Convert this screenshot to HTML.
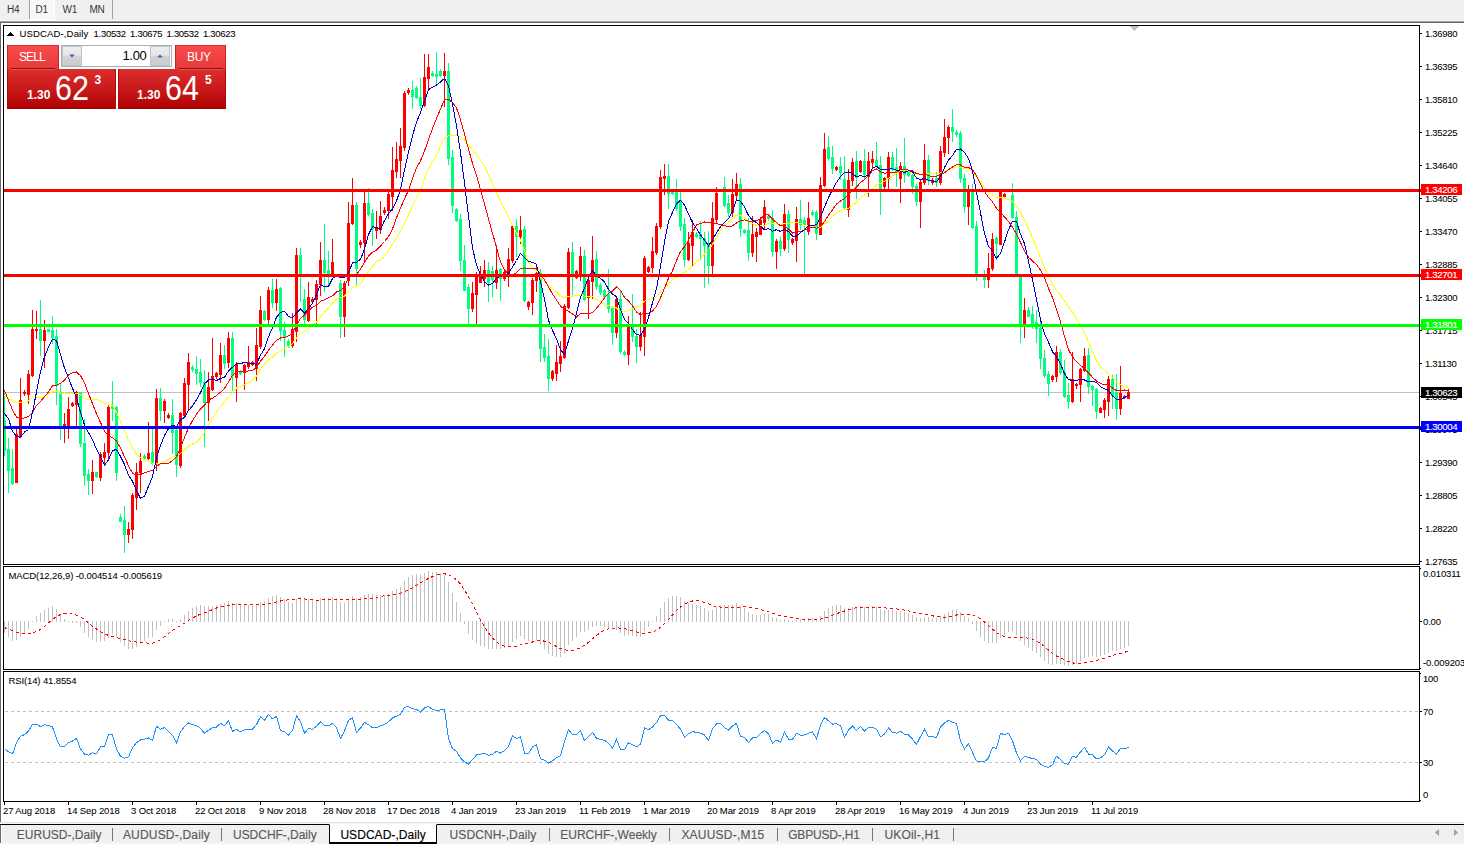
<!DOCTYPE html>
<html><head><meta charset="utf-8"><title>USDCAD-,Daily</title>
<style>
html,body{margin:0;padding:0;background:#fff;}
body{width:1464px;height:845px;position:relative;overflow:hidden;font-family:"Liberation Sans",sans-serif;}
#top{position:absolute;left:0;top:0;width:1464px;height:20px;background:#f0f0f0;}
#topl1{position:absolute;left:0;top:20px;width:1464px;height:1px;background:#f8f8f8;}
#topl2{position:absolute;left:0;top:21px;width:1464px;height:1px;background:#a0a0a0;}
#topl3{position:absolute;left:0;top:22px;width:1464px;height:1px;background:#696969;}
#leftg{position:absolute;left:0;top:22px;width:1px;height:800px;background:#696969;}
.tf{position:absolute;top:3.5px;font-size:10px;line-height:12px;color:#383838;letter-spacing:-0.3px;}
.sep{position:absolute;top:0;width:1px;height:19px;background:#a0a0a0;}
#d1{position:absolute;left:30px;top:0;width:24px;height:19px;background:#fff;border-right:1px solid #fff;border-bottom:1px solid #fff;box-sizing:content-box;background-image:linear-gradient(45deg,#f0f0f0 25%,transparent 25%,transparent 75%,#f0f0f0 75%),linear-gradient(45deg,#f0f0f0 25%,transparent 25%,transparent 75%,#f0f0f0 75%);background-size:2px 2px;background-position:0 0,1px 1px;}
svg{position:absolute;left:0;top:0;}
.ax{position:absolute;font-size:9.5px;line-height:12px;color:#000;white-space:nowrap;letter-spacing:-0.3px;-webkit-text-stroke:0.06px #000;}
.box{position:absolute;left:1421px;width:41px;height:11px;}
.box span{position:absolute;left:4px;top:0px;font-size:9.7px;line-height:11px;letter-spacing:-0.4px;-webkit-text-stroke:0.12px currentColor;}
#bot1{position:absolute;left:0;top:822px;width:1464px;height:1px;background:#e0e0e0;}
#bot2{position:absolute;left:0;top:823px;width:1464px;height:1px;background:#f6f6f6;}
#bot3{position:absolute;left:0;top:824px;width:1464px;height:1px;background:#000;}
#bot{position:absolute;left:0;top:825px;width:1464px;height:18px;background:#f0f0f0;border-left:1px solid #696969;box-sizing:border-box;}
#botl{position:absolute;left:0;top:843px;width:1464px;height:2px;background:#fafafa;}
.tab{position:absolute;top:827px;font-size:12px;line-height:16px;color:#5a5a5a;white-space:nowrap;-webkit-text-stroke:0.15px #5a5a5a;}
.tsep{position:absolute;top:828px;width:1px;height:13px;background:#777;}
#act{position:absolute;left:329px;top:824px;width:106px;height:17px;background:#fff;border:1px solid #000;border-top:1px solid #fff;border-bottom-width:2px;}
#act span{position:absolute;left:10.4px;top:2px;font-size:12px;line-height:16px;color:#000;white-space:nowrap;letter-spacing:0.05px;-webkit-text-stroke:0.15px #000;}
/* one-click widget */
#w{position:absolute;left:7px;top:45px;width:220px;height:64px;}
.g1{background:linear-gradient(#f94d4d,#e63a3a);box-shadow:inset 1px 0 #d02020,inset -1px 0 #d02020,inset 0 1px #d83030;}
.g2{background:linear-gradient(#dd2e2e,#c81a1a 50%,#ae0000);box-shadow:inset 1px 0 #b00808,inset -1px 0 #b00808,inset 0 -1px #a00000;}
#sellt{position:absolute;left:0;top:0;width:52px;height:24px;}
#buyt{position:absolute;left:168px;top:0;width:51px;height:24px;}
#sellb{position:absolute;left:0;top:24px;width:109px;height:40px;}
#buyb{position:absolute;left:111px;top:24px;width:108px;height:40px;}
.wl{position:absolute;font-size:12px;line-height:14px;color:#fff;}
.und{position:absolute;top:23px;height:1px;background:#8c0c0c;}
.und2{position:absolute;top:24px;height:1px;background:#ea5252;}
#spin{position:absolute;left:54px;top:0;width:111px;height:22px;background:#fff;border:1px solid #a8b0b8;box-sizing:border-box;}
.sb{position:absolute;top:0px;width:20px;height:20px;background:linear-gradient(#eeeeee,#e4e4e4 50%,#d4d4d4 50%,#cccccc);border:1px solid #c0c4c8;box-sizing:border-box;}
.sm{position:absolute;font-weight:bold;font-size:12px;line-height:14px;color:#fff;}
.bg{position:absolute;font-size:35px;line-height:34px;color:#fff;transform:scaleX(0.87);transform-origin:0 0;}
.sup{position:absolute;font-weight:bold;font-size:12px;line-height:14px;color:#fff;}
</style></head><body>
<div id="top"></div><div id="topl1"></div><div id="topl2"></div><div id="topl3"></div><div id="leftg"></div>
<div id="d1"></div>
<div class="tf" style="left:7px">H4</div><div class="sep" style="left:29px"></div>
<div class="tf" style="left:35.5px">D1</div>
<div class="tf" style="left:62.5px">W1</div>
<div class="tf" style="left:89.5px">MN</div><div class="sep" style="left:112px"></div>
<svg width="1464" height="845" viewBox="0 0 1464 845" shape-rendering="crispEdges">
<rect x="4" y="392" width="1415" height="1" fill="#c0c0c0"/>
<rect x="4" y="393" width="1" height="63" fill="#00ff7f"/>
<rect x="3" y="420" width="3" height="31" fill="#00ff7f"/>
<rect x="8" y="438" width="1" height="55" fill="#00ff7f"/>
<rect x="7" y="449" width="3" height="22" fill="#00ff7f"/>
<rect x="12" y="449" width="1" height="36" fill="#00ff7f"/>
<rect x="11" y="468" width="3" height="16" fill="#00ff7f"/>
<rect x="16" y="428" width="1" height="55" fill="#ff0000"/>
<rect x="15" y="434" width="3" height="49" fill="#ff0000"/>
<rect x="20" y="378" width="1" height="60" fill="#ff0000"/>
<rect x="19" y="400" width="3" height="37" fill="#ff0000"/>
<rect x="24" y="390" width="1" height="6" fill="#ff0000"/>
<rect x="23" y="392" width="3" height="2" fill="#ff0000"/>
<rect x="28" y="370" width="1" height="34" fill="#ff0000"/>
<rect x="27" y="374" width="3" height="21" fill="#ff0000"/>
<rect x="32" y="310" width="1" height="67" fill="#ff0000"/>
<rect x="31" y="329" width="3" height="47" fill="#ff0000"/>
<rect x="36" y="311" width="1" height="28" fill="#ff0000"/>
<rect x="35" y="329" width="3" height="2" fill="#ff0000"/>
<rect x="40" y="300" width="1" height="56" fill="#00ff7f"/>
<rect x="39" y="329" width="3" height="12" fill="#00ff7f"/>
<rect x="44" y="320" width="1" height="48" fill="#ff0000"/>
<rect x="43" y="330" width="3" height="11" fill="#ff0000"/>
<rect x="48" y="329" width="1" height="3" fill="#00ff7f"/>
<rect x="47" y="329" width="3" height="3" fill="#00ff7f"/>
<rect x="52" y="316" width="1" height="28" fill="#00ff7f"/>
<rect x="51" y="330" width="3" height="8" fill="#00ff7f"/>
<rect x="56" y="329" width="1" height="76" fill="#00ff7f"/>
<rect x="55" y="336" width="3" height="50" fill="#00ff7f"/>
<rect x="60" y="384" width="1" height="56" fill="#00ff7f"/>
<rect x="59" y="393" width="3" height="34" fill="#00ff7f"/>
<rect x="64" y="413" width="1" height="30" fill="#ff0000"/>
<rect x="63" y="424" width="3" height="4" fill="#ff0000"/>
<rect x="68" y="397" width="1" height="42" fill="#ff0000"/>
<rect x="67" y="409" width="3" height="18" fill="#ff0000"/>
<rect x="72" y="402" width="1" height="5" fill="#ff0000"/>
<rect x="71" y="403" width="3" height="3" fill="#ff0000"/>
<rect x="76" y="391" width="1" height="36" fill="#ff0000"/>
<rect x="75" y="392" width="3" height="13" fill="#ff0000"/>
<rect x="80" y="392" width="1" height="55" fill="#00ff7f"/>
<rect x="79" y="392" width="3" height="52" fill="#00ff7f"/>
<rect x="84" y="419" width="1" height="67" fill="#00ff7f"/>
<rect x="83" y="443" width="3" height="33" fill="#00ff7f"/>
<rect x="88" y="469" width="1" height="26" fill="#00ff7f"/>
<rect x="87" y="474" width="3" height="7" fill="#00ff7f"/>
<rect x="92" y="460" width="1" height="34" fill="#ff0000"/>
<rect x="91" y="472" width="3" height="9" fill="#ff0000"/>
<rect x="96" y="472" width="1" height="6" fill="#00ff7f"/>
<rect x="95" y="472" width="3" height="5" fill="#00ff7f"/>
<rect x="100" y="452" width="1" height="29" fill="#ff0000"/>
<rect x="99" y="454" width="3" height="24" fill="#ff0000"/>
<rect x="104" y="443" width="1" height="21" fill="#ff0000"/>
<rect x="103" y="452" width="3" height="6" fill="#ff0000"/>
<rect x="108" y="405" width="1" height="54" fill="#ff0000"/>
<rect x="107" y="407" width="3" height="46" fill="#ff0000"/>
<rect x="112" y="381" width="1" height="40" fill="#00ff7f"/>
<rect x="111" y="406" width="3" height="3" fill="#00ff7f"/>
<rect x="116" y="406" width="1" height="75" fill="#00ff7f"/>
<rect x="115" y="407" width="3" height="66" fill="#00ff7f"/>
<rect x="120" y="514" width="1" height="8" fill="#00ff7f"/>
<rect x="119" y="517" width="3" height="5" fill="#00ff7f"/>
<rect x="124" y="506" width="1" height="47" fill="#00ff7f"/>
<rect x="123" y="520" width="3" height="15" fill="#00ff7f"/>
<rect x="128" y="522" width="1" height="21" fill="#ff0000"/>
<rect x="127" y="529" width="3" height="6" fill="#ff0000"/>
<rect x="132" y="493" width="1" height="46" fill="#ff0000"/>
<rect x="131" y="495" width="3" height="35" fill="#ff0000"/>
<rect x="136" y="463" width="1" height="47" fill="#ff0000"/>
<rect x="135" y="472" width="3" height="26" fill="#ff0000"/>
<rect x="140" y="453" width="1" height="40" fill="#ff0000"/>
<rect x="139" y="461" width="3" height="12" fill="#ff0000"/>
<rect x="144" y="454" width="1" height="6" fill="#00ff7f"/>
<rect x="143" y="456" width="3" height="3" fill="#00ff7f"/>
<rect x="148" y="422" width="1" height="38" fill="#ff0000"/>
<rect x="147" y="453" width="3" height="6" fill="#ff0000"/>
<rect x="152" y="428" width="1" height="37" fill="#00ff7f"/>
<rect x="151" y="452" width="3" height="12" fill="#00ff7f"/>
<rect x="156" y="389" width="1" height="82" fill="#ff0000"/>
<rect x="155" y="398" width="3" height="66" fill="#ff0000"/>
<rect x="160" y="388" width="1" height="33" fill="#00ff7f"/>
<rect x="159" y="398" width="3" height="13" fill="#00ff7f"/>
<rect x="164" y="399" width="1" height="24" fill="#ff0000"/>
<rect x="163" y="401" width="3" height="10" fill="#ff0000"/>
<rect x="168" y="413" width="1" height="6" fill="#ff0000"/>
<rect x="167" y="415" width="3" height="3" fill="#ff0000"/>
<rect x="172" y="399" width="1" height="55" fill="#00ff7f"/>
<rect x="171" y="415" width="3" height="18" fill="#00ff7f"/>
<rect x="176" y="429" width="1" height="48" fill="#00ff7f"/>
<rect x="175" y="430" width="3" height="35" fill="#00ff7f"/>
<rect x="180" y="412" width="1" height="56" fill="#ff0000"/>
<rect x="179" y="413" width="3" height="53" fill="#ff0000"/>
<rect x="184" y="378" width="1" height="39" fill="#ff0000"/>
<rect x="183" y="383" width="3" height="33" fill="#ff0000"/>
<rect x="188" y="353" width="1" height="58" fill="#ff0000"/>
<rect x="187" y="362" width="3" height="23" fill="#ff0000"/>
<rect x="192" y="365" width="1" height="7" fill="#00ff7f"/>
<rect x="191" y="367" width="3" height="3" fill="#00ff7f"/>
<rect x="196" y="356" width="1" height="29" fill="#00ff7f"/>
<rect x="195" y="369" width="3" height="5" fill="#00ff7f"/>
<rect x="200" y="359" width="1" height="28" fill="#00ff7f"/>
<rect x="199" y="372" width="3" height="11" fill="#00ff7f"/>
<rect x="204" y="370" width="1" height="77" fill="#00ff7f"/>
<rect x="203" y="382" width="3" height="21" fill="#00ff7f"/>
<rect x="208" y="372" width="1" height="49" fill="#ff0000"/>
<rect x="207" y="387" width="3" height="16" fill="#ff0000"/>
<rect x="212" y="338" width="1" height="53" fill="#ff0000"/>
<rect x="211" y="376" width="3" height="14" fill="#ff0000"/>
<rect x="216" y="372" width="1" height="7" fill="#ff0000"/>
<rect x="215" y="373" width="3" height="4" fill="#ff0000"/>
<rect x="220" y="343" width="1" height="40" fill="#ff0000"/>
<rect x="219" y="355" width="3" height="20" fill="#ff0000"/>
<rect x="224" y="345" width="1" height="24" fill="#00ff7f"/>
<rect x="223" y="355" width="3" height="9" fill="#00ff7f"/>
<rect x="228" y="332" width="1" height="36" fill="#ff0000"/>
<rect x="227" y="338" width="3" height="25" fill="#ff0000"/>
<rect x="232" y="332" width="1" height="59" fill="#00ff7f"/>
<rect x="231" y="338" width="3" height="38" fill="#00ff7f"/>
<rect x="236" y="362" width="1" height="40" fill="#ff0000"/>
<rect x="235" y="364" width="3" height="14" fill="#ff0000"/>
<rect x="240" y="370" width="1" height="5" fill="#00ff7f"/>
<rect x="239" y="371" width="3" height="3" fill="#00ff7f"/>
<rect x="244" y="364" width="1" height="26" fill="#ff0000"/>
<rect x="243" y="365" width="3" height="8" fill="#ff0000"/>
<rect x="248" y="346" width="1" height="23" fill="#ff0000"/>
<rect x="247" y="362" width="3" height="5" fill="#ff0000"/>
<rect x="252" y="361" width="1" height="5" fill="#ff0000"/>
<rect x="251" y="362" width="3" height="3" fill="#ff0000"/>
<rect x="256" y="328" width="1" height="53" fill="#ff0000"/>
<rect x="255" y="345" width="3" height="24" fill="#ff0000"/>
<rect x="260" y="296" width="1" height="53" fill="#ff0000"/>
<rect x="259" y="310" width="3" height="37" fill="#ff0000"/>
<rect x="264" y="310" width="1" height="11" fill="#00ff7f"/>
<rect x="263" y="311" width="3" height="9" fill="#00ff7f"/>
<rect x="268" y="287" width="1" height="37" fill="#ff0000"/>
<rect x="267" y="290" width="3" height="30" fill="#ff0000"/>
<rect x="272" y="279" width="1" height="29" fill="#00ff7f"/>
<rect x="271" y="290" width="3" height="13" fill="#00ff7f"/>
<rect x="276" y="279" width="1" height="32" fill="#ff0000"/>
<rect x="275" y="289" width="3" height="14" fill="#ff0000"/>
<rect x="280" y="287" width="1" height="54" fill="#00ff7f"/>
<rect x="279" y="288" width="3" height="43" fill="#00ff7f"/>
<rect x="284" y="322" width="1" height="35" fill="#00ff7f"/>
<rect x="283" y="330" width="3" height="7" fill="#00ff7f"/>
<rect x="288" y="339" width="1" height="9" fill="#00ff7f"/>
<rect x="287" y="341" width="3" height="6" fill="#00ff7f"/>
<rect x="292" y="313" width="1" height="35" fill="#ff0000"/>
<rect x="291" y="329" width="3" height="17" fill="#ff0000"/>
<rect x="296" y="248" width="1" height="94" fill="#ff0000"/>
<rect x="295" y="255" width="3" height="77" fill="#ff0000"/>
<rect x="300" y="248" width="1" height="54" fill="#00ff7f"/>
<rect x="299" y="255" width="3" height="21" fill="#00ff7f"/>
<rect x="304" y="289" width="1" height="35" fill="#00ff7f"/>
<rect x="303" y="299" width="3" height="21" fill="#00ff7f"/>
<rect x="308" y="282" width="1" height="40" fill="#ff0000"/>
<rect x="307" y="297" width="3" height="24" fill="#ff0000"/>
<rect x="312" y="297" width="1" height="7" fill="#ff0000"/>
<rect x="311" y="299" width="3" height="3" fill="#ff0000"/>
<rect x="316" y="280" width="1" height="45" fill="#ff0000"/>
<rect x="315" y="284" width="3" height="16" fill="#ff0000"/>
<rect x="320" y="242" width="1" height="54" fill="#ff0000"/>
<rect x="319" y="260" width="3" height="25" fill="#ff0000"/>
<rect x="324" y="224" width="1" height="68" fill="#00ff7f"/>
<rect x="323" y="260" width="3" height="13" fill="#00ff7f"/>
<rect x="328" y="251" width="1" height="35" fill="#00ff7f"/>
<rect x="327" y="270" width="3" height="4" fill="#00ff7f"/>
<rect x="332" y="239" width="1" height="36" fill="#ff0000"/>
<rect x="331" y="262" width="3" height="12" fill="#ff0000"/>
<rect x="336" y="274" width="1" height="3" fill="#00ff7f"/>
<rect x="335" y="274" width="3" height="3" fill="#00ff7f"/>
<rect x="340" y="280" width="1" height="58" fill="#00ff7f"/>
<rect x="339" y="283" width="3" height="34" fill="#00ff7f"/>
<rect x="344" y="281" width="1" height="56" fill="#ff0000"/>
<rect x="343" y="283" width="3" height="34" fill="#ff0000"/>
<rect x="348" y="202" width="1" height="84" fill="#ff0000"/>
<rect x="347" y="223" width="3" height="58" fill="#ff0000"/>
<rect x="352" y="178" width="1" height="47" fill="#ff0000"/>
<rect x="351" y="205" width="3" height="19" fill="#ff0000"/>
<rect x="356" y="202" width="1" height="84" fill="#00ff7f"/>
<rect x="355" y="205" width="3" height="64" fill="#00ff7f"/>
<rect x="360" y="240" width="1" height="8" fill="#ff0000"/>
<rect x="359" y="242" width="3" height="3" fill="#ff0000"/>
<rect x="364" y="191" width="1" height="70" fill="#ff0000"/>
<rect x="363" y="203" width="3" height="40" fill="#ff0000"/>
<rect x="368" y="188" width="1" height="28" fill="#00ff7f"/>
<rect x="367" y="203" width="3" height="12" fill="#00ff7f"/>
<rect x="372" y="209" width="1" height="37" fill="#00ff7f"/>
<rect x="371" y="213" width="3" height="16" fill="#00ff7f"/>
<rect x="376" y="211" width="1" height="28" fill="#ff0000"/>
<rect x="375" y="228" width="3" height="3" fill="#ff0000"/>
<rect x="380" y="201" width="1" height="33" fill="#ff0000"/>
<rect x="379" y="216" width="3" height="14" fill="#ff0000"/>
<rect x="384" y="207" width="1" height="8" fill="#ff0000"/>
<rect x="383" y="210" width="3" height="3" fill="#ff0000"/>
<rect x="388" y="191" width="1" height="28" fill="#ff0000"/>
<rect x="387" y="194" width="3" height="17" fill="#ff0000"/>
<rect x="392" y="147" width="1" height="64" fill="#ff0000"/>
<rect x="391" y="170" width="3" height="27" fill="#ff0000"/>
<rect x="396" y="142" width="1" height="36" fill="#ff0000"/>
<rect x="395" y="159" width="3" height="13" fill="#ff0000"/>
<rect x="400" y="128" width="1" height="50" fill="#ff0000"/>
<rect x="399" y="146" width="3" height="15" fill="#ff0000"/>
<rect x="404" y="91" width="1" height="60" fill="#ff0000"/>
<rect x="403" y="93" width="3" height="55" fill="#ff0000"/>
<rect x="408" y="88" width="1" height="7" fill="#ff0000"/>
<rect x="407" y="90" width="3" height="3" fill="#ff0000"/>
<rect x="412" y="81" width="1" height="28" fill="#00ff7f"/>
<rect x="411" y="90" width="3" height="7" fill="#00ff7f"/>
<rect x="416" y="86" width="1" height="13" fill="#00ff7f"/>
<rect x="415" y="88" width="3" height="10" fill="#00ff7f"/>
<rect x="420" y="78" width="1" height="31" fill="#00ff7f"/>
<rect x="419" y="97" width="3" height="9" fill="#00ff7f"/>
<rect x="424" y="54" width="1" height="53" fill="#ff0000"/>
<rect x="423" y="77" width="3" height="29" fill="#ff0000"/>
<rect x="428" y="54" width="1" height="35" fill="#ff0000"/>
<rect x="427" y="67" width="3" height="12" fill="#ff0000"/>
<rect x="432" y="71" width="1" height="6" fill="#00ff7f"/>
<rect x="431" y="73" width="3" height="3" fill="#00ff7f"/>
<rect x="436" y="52" width="1" height="32" fill="#00ff7f"/>
<rect x="435" y="74" width="3" height="3" fill="#00ff7f"/>
<rect x="440" y="69" width="1" height="8" fill="#00ff7f"/>
<rect x="439" y="71" width="3" height="5" fill="#00ff7f"/>
<rect x="444" y="53" width="1" height="54" fill="#ff0000"/>
<rect x="443" y="71" width="3" height="5" fill="#ff0000"/>
<rect x="448" y="63" width="1" height="102" fill="#00ff7f"/>
<rect x="447" y="71" width="3" height="88" fill="#00ff7f"/>
<rect x="452" y="150" width="1" height="63" fill="#00ff7f"/>
<rect x="451" y="157" width="3" height="49" fill="#00ff7f"/>
<rect x="456" y="208" width="1" height="14" fill="#00ff7f"/>
<rect x="455" y="209" width="3" height="12" fill="#00ff7f"/>
<rect x="460" y="214" width="1" height="57" fill="#00ff7f"/>
<rect x="459" y="219" width="3" height="42" fill="#00ff7f"/>
<rect x="464" y="245" width="1" height="46" fill="#00ff7f"/>
<rect x="463" y="260" width="3" height="31" fill="#00ff7f"/>
<rect x="468" y="284" width="1" height="41" fill="#00ff7f"/>
<rect x="467" y="287" width="3" height="22" fill="#00ff7f"/>
<rect x="472" y="282" width="1" height="30" fill="#ff0000"/>
<rect x="471" y="293" width="3" height="16" fill="#ff0000"/>
<rect x="476" y="272" width="1" height="53" fill="#ff0000"/>
<rect x="475" y="276" width="3" height="19" fill="#ff0000"/>
<rect x="480" y="266" width="1" height="17" fill="#ff0000"/>
<rect x="479" y="274" width="3" height="9" fill="#ff0000"/>
<rect x="484" y="260" width="1" height="27" fill="#ff0000"/>
<rect x="483" y="270" width="3" height="9" fill="#ff0000"/>
<rect x="488" y="262" width="1" height="40" fill="#00ff7f"/>
<rect x="487" y="270" width="3" height="13" fill="#00ff7f"/>
<rect x="492" y="266" width="1" height="31" fill="#00ff7f"/>
<rect x="491" y="271" width="3" height="9" fill="#00ff7f"/>
<rect x="496" y="248" width="1" height="41" fill="#ff0000"/>
<rect x="495" y="270" width="3" height="13" fill="#ff0000"/>
<rect x="500" y="268" width="1" height="33" fill="#00ff7f"/>
<rect x="499" y="269" width="3" height="10" fill="#00ff7f"/>
<rect x="504" y="270" width="1" height="11" fill="#ff0000"/>
<rect x="503" y="272" width="3" height="7" fill="#ff0000"/>
<rect x="508" y="248" width="1" height="39" fill="#ff0000"/>
<rect x="507" y="259" width="3" height="18" fill="#ff0000"/>
<rect x="512" y="225" width="1" height="38" fill="#ff0000"/>
<rect x="511" y="226" width="3" height="35" fill="#ff0000"/>
<rect x="516" y="219" width="1" height="38" fill="#00ff7f"/>
<rect x="515" y="226" width="3" height="11" fill="#00ff7f"/>
<rect x="520" y="216" width="1" height="28" fill="#ff0000"/>
<rect x="519" y="230" width="3" height="7" fill="#ff0000"/>
<rect x="524" y="226" width="1" height="76" fill="#00ff7f"/>
<rect x="523" y="229" width="3" height="72" fill="#00ff7f"/>
<rect x="528" y="301" width="1" height="9" fill="#ff0000"/>
<rect x="527" y="302" width="3" height="5" fill="#ff0000"/>
<rect x="532" y="278" width="1" height="37" fill="#ff0000"/>
<rect x="531" y="280" width="3" height="23" fill="#ff0000"/>
<rect x="536" y="266" width="1" height="26" fill="#ff0000"/>
<rect x="535" y="273" width="3" height="8" fill="#ff0000"/>
<rect x="540" y="269" width="1" height="93" fill="#00ff7f"/>
<rect x="539" y="273" width="3" height="76" fill="#00ff7f"/>
<rect x="544" y="334" width="1" height="28" fill="#00ff7f"/>
<rect x="543" y="347" width="3" height="11" fill="#00ff7f"/>
<rect x="548" y="339" width="1" height="52" fill="#00ff7f"/>
<rect x="547" y="356" width="3" height="23" fill="#00ff7f"/>
<rect x="552" y="370" width="1" height="11" fill="#ff0000"/>
<rect x="551" y="371" width="3" height="8" fill="#ff0000"/>
<rect x="556" y="345" width="1" height="36" fill="#ff0000"/>
<rect x="555" y="362" width="3" height="12" fill="#ff0000"/>
<rect x="560" y="341" width="1" height="31" fill="#ff0000"/>
<rect x="559" y="356" width="3" height="8" fill="#ff0000"/>
<rect x="564" y="304" width="1" height="55" fill="#ff0000"/>
<rect x="563" y="306" width="3" height="52" fill="#ff0000"/>
<rect x="568" y="248" width="1" height="61" fill="#ff0000"/>
<rect x="567" y="252" width="3" height="56" fill="#ff0000"/>
<rect x="572" y="242" width="1" height="53" fill="#00ff7f"/>
<rect x="571" y="252" width="3" height="22" fill="#00ff7f"/>
<rect x="576" y="270" width="1" height="9" fill="#ff0000"/>
<rect x="575" y="271" width="3" height="7" fill="#ff0000"/>
<rect x="580" y="247" width="1" height="34" fill="#ff0000"/>
<rect x="579" y="256" width="3" height="18" fill="#ff0000"/>
<rect x="584" y="250" width="1" height="51" fill="#00ff7f"/>
<rect x="583" y="256" width="3" height="44" fill="#00ff7f"/>
<rect x="588" y="277" width="1" height="42" fill="#ff0000"/>
<rect x="587" y="280" width="3" height="18" fill="#ff0000"/>
<rect x="592" y="236" width="1" height="63" fill="#ff0000"/>
<rect x="591" y="260" width="3" height="22" fill="#ff0000"/>
<rect x="596" y="251" width="1" height="39" fill="#00ff7f"/>
<rect x="595" y="259" width="3" height="28" fill="#00ff7f"/>
<rect x="600" y="283" width="1" height="12" fill="#00ff7f"/>
<rect x="599" y="285" width="3" height="8" fill="#00ff7f"/>
<rect x="604" y="289" width="1" height="10" fill="#00ff7f"/>
<rect x="603" y="290" width="3" height="7" fill="#00ff7f"/>
<rect x="608" y="269" width="1" height="44" fill="#00ff7f"/>
<rect x="607" y="294" width="3" height="15" fill="#00ff7f"/>
<rect x="612" y="307" width="1" height="38" fill="#00ff7f"/>
<rect x="611" y="308" width="3" height="25" fill="#00ff7f"/>
<rect x="616" y="297" width="1" height="41" fill="#ff0000"/>
<rect x="615" y="299" width="3" height="34" fill="#ff0000"/>
<rect x="620" y="291" width="1" height="63" fill="#00ff7f"/>
<rect x="619" y="299" width="3" height="53" fill="#00ff7f"/>
<rect x="624" y="350" width="1" height="6" fill="#00ff7f"/>
<rect x="623" y="352" width="3" height="3" fill="#00ff7f"/>
<rect x="628" y="316" width="1" height="49" fill="#ff0000"/>
<rect x="627" y="324" width="3" height="31" fill="#ff0000"/>
<rect x="632" y="294" width="1" height="48" fill="#00ff7f"/>
<rect x="631" y="324" width="3" height="13" fill="#00ff7f"/>
<rect x="636" y="329" width="1" height="34" fill="#00ff7f"/>
<rect x="635" y="336" width="3" height="11" fill="#00ff7f"/>
<rect x="640" y="312" width="1" height="39" fill="#ff0000"/>
<rect x="639" y="335" width="3" height="12" fill="#ff0000"/>
<rect x="644" y="256" width="1" height="100" fill="#ff0000"/>
<rect x="643" y="258" width="3" height="79" fill="#ff0000"/>
<rect x="648" y="266" width="1" height="7" fill="#ff0000"/>
<rect x="647" y="267" width="3" height="5" fill="#ff0000"/>
<rect x="652" y="237" width="1" height="36" fill="#ff0000"/>
<rect x="651" y="251" width="3" height="17" fill="#ff0000"/>
<rect x="656" y="223" width="1" height="32" fill="#ff0000"/>
<rect x="655" y="226" width="3" height="27" fill="#ff0000"/>
<rect x="660" y="170" width="1" height="59" fill="#ff0000"/>
<rect x="659" y="177" width="3" height="50" fill="#ff0000"/>
<rect x="664" y="164" width="1" height="31" fill="#ff0000"/>
<rect x="663" y="176" width="3" height="3" fill="#ff0000"/>
<rect x="668" y="164" width="1" height="45" fill="#00ff7f"/>
<rect x="667" y="176" width="3" height="18" fill="#00ff7f"/>
<rect x="672" y="191" width="1" height="4" fill="#00ff7f"/>
<rect x="671" y="192" width="3" height="2" fill="#00ff7f"/>
<rect x="676" y="179" width="1" height="32" fill="#00ff7f"/>
<rect x="675" y="192" width="3" height="17" fill="#00ff7f"/>
<rect x="680" y="192" width="1" height="39" fill="#00ff7f"/>
<rect x="679" y="200" width="3" height="27" fill="#00ff7f"/>
<rect x="684" y="218" width="1" height="49" fill="#00ff7f"/>
<rect x="683" y="224" width="3" height="36" fill="#00ff7f"/>
<rect x="688" y="232" width="1" height="29" fill="#ff0000"/>
<rect x="687" y="243" width="3" height="17" fill="#ff0000"/>
<rect x="692" y="220" width="1" height="46" fill="#ff0000"/>
<rect x="691" y="232" width="3" height="14" fill="#ff0000"/>
<rect x="696" y="232" width="1" height="6" fill="#00ff7f"/>
<rect x="695" y="234" width="3" height="3" fill="#00ff7f"/>
<rect x="700" y="221" width="1" height="39" fill="#00ff7f"/>
<rect x="699" y="234" width="3" height="5" fill="#00ff7f"/>
<rect x="704" y="232" width="1" height="56" fill="#00ff7f"/>
<rect x="703" y="238" width="3" height="8" fill="#00ff7f"/>
<rect x="708" y="231" width="1" height="53" fill="#00ff7f"/>
<rect x="707" y="243" width="3" height="23" fill="#00ff7f"/>
<rect x="712" y="202" width="1" height="72" fill="#ff0000"/>
<rect x="711" y="218" width="3" height="48" fill="#ff0000"/>
<rect x="716" y="187" width="1" height="37" fill="#ff0000"/>
<rect x="715" y="193" width="3" height="27" fill="#ff0000"/>
<rect x="720" y="190" width="1" height="2" fill="#ff0000"/>
<rect x="719" y="190" width="3" height="1" fill="#ff0000"/>
<rect x="724" y="177" width="1" height="30" fill="#00ff7f"/>
<rect x="723" y="187" width="3" height="19" fill="#00ff7f"/>
<rect x="728" y="195" width="1" height="22" fill="#00ff7f"/>
<rect x="727" y="203" width="3" height="10" fill="#00ff7f"/>
<rect x="732" y="179" width="1" height="38" fill="#ff0000"/>
<rect x="731" y="194" width="3" height="19" fill="#ff0000"/>
<rect x="736" y="173" width="1" height="28" fill="#ff0000"/>
<rect x="735" y="184" width="3" height="12" fill="#ff0000"/>
<rect x="740" y="178" width="1" height="59" fill="#00ff7f"/>
<rect x="739" y="184" width="3" height="45" fill="#00ff7f"/>
<rect x="744" y="229" width="1" height="5" fill="#00ff7f"/>
<rect x="743" y="230" width="3" height="3" fill="#00ff7f"/>
<rect x="748" y="218" width="1" height="43" fill="#00ff7f"/>
<rect x="747" y="230" width="3" height="23" fill="#00ff7f"/>
<rect x="752" y="216" width="1" height="41" fill="#ff0000"/>
<rect x="751" y="234" width="3" height="19" fill="#ff0000"/>
<rect x="756" y="228" width="1" height="34" fill="#ff0000"/>
<rect x="755" y="232" width="3" height="5" fill="#ff0000"/>
<rect x="760" y="217" width="1" height="18" fill="#ff0000"/>
<rect x="759" y="220" width="3" height="15" fill="#ff0000"/>
<rect x="764" y="200" width="1" height="30" fill="#ff0000"/>
<rect x="763" y="207" width="3" height="16" fill="#ff0000"/>
<rect x="768" y="215" width="1" height="6" fill="#00ff7f"/>
<rect x="767" y="216" width="3" height="3" fill="#00ff7f"/>
<rect x="772" y="210" width="1" height="47" fill="#00ff7f"/>
<rect x="771" y="218" width="3" height="34" fill="#00ff7f"/>
<rect x="776" y="239" width="1" height="30" fill="#ff0000"/>
<rect x="775" y="241" width="3" height="11" fill="#ff0000"/>
<rect x="780" y="236" width="1" height="20" fill="#00ff7f"/>
<rect x="779" y="241" width="3" height="8" fill="#00ff7f"/>
<rect x="784" y="204" width="1" height="47" fill="#ff0000"/>
<rect x="783" y="214" width="3" height="35" fill="#ff0000"/>
<rect x="788" y="210" width="1" height="43" fill="#00ff7f"/>
<rect x="787" y="214" width="3" height="26" fill="#00ff7f"/>
<rect x="792" y="238" width="1" height="7" fill="#ff0000"/>
<rect x="791" y="239" width="3" height="4" fill="#ff0000"/>
<rect x="796" y="207" width="1" height="55" fill="#ff0000"/>
<rect x="795" y="219" width="3" height="22" fill="#ff0000"/>
<rect x="800" y="200" width="1" height="30" fill="#00ff7f"/>
<rect x="799" y="219" width="3" height="6" fill="#00ff7f"/>
<rect x="804" y="217" width="1" height="58" fill="#00ff7f"/>
<rect x="803" y="220" width="3" height="5" fill="#00ff7f"/>
<rect x="808" y="202" width="1" height="33" fill="#ff0000"/>
<rect x="807" y="218" width="3" height="14" fill="#ff0000"/>
<rect x="812" y="210" width="1" height="6" fill="#00ff7f"/>
<rect x="811" y="212" width="3" height="3" fill="#00ff7f"/>
<rect x="816" y="210" width="1" height="30" fill="#00ff7f"/>
<rect x="815" y="212" width="3" height="22" fill="#00ff7f"/>
<rect x="820" y="177" width="1" height="58" fill="#ff0000"/>
<rect x="819" y="185" width="3" height="50" fill="#ff0000"/>
<rect x="824" y="133" width="1" height="54" fill="#ff0000"/>
<rect x="823" y="149" width="3" height="37" fill="#ff0000"/>
<rect x="828" y="136" width="1" height="25" fill="#00ff7f"/>
<rect x="827" y="147" width="3" height="12" fill="#00ff7f"/>
<rect x="832" y="146" width="1" height="28" fill="#00ff7f"/>
<rect x="831" y="157" width="3" height="12" fill="#00ff7f"/>
<rect x="836" y="166" width="1" height="5" fill="#ff0000"/>
<rect x="835" y="167" width="3" height="3" fill="#ff0000"/>
<rect x="840" y="157" width="1" height="23" fill="#00ff7f"/>
<rect x="839" y="166" width="3" height="7" fill="#00ff7f"/>
<rect x="844" y="156" width="1" height="54" fill="#00ff7f"/>
<rect x="843" y="179" width="3" height="29" fill="#00ff7f"/>
<rect x="848" y="169" width="1" height="48" fill="#ff0000"/>
<rect x="847" y="180" width="3" height="30" fill="#ff0000"/>
<rect x="852" y="158" width="1" height="28" fill="#ff0000"/>
<rect x="851" y="162" width="3" height="19" fill="#ff0000"/>
<rect x="856" y="151" width="1" height="48" fill="#00ff7f"/>
<rect x="855" y="161" width="3" height="17" fill="#00ff7f"/>
<rect x="860" y="160" width="1" height="13" fill="#ff0000"/>
<rect x="859" y="161" width="3" height="11" fill="#ff0000"/>
<rect x="864" y="149" width="1" height="30" fill="#00ff7f"/>
<rect x="863" y="161" width="3" height="14" fill="#00ff7f"/>
<rect x="868" y="152" width="1" height="45" fill="#ff0000"/>
<rect x="867" y="161" width="3" height="16" fill="#ff0000"/>
<rect x="872" y="151" width="1" height="18" fill="#ff0000"/>
<rect x="871" y="159" width="3" height="4" fill="#ff0000"/>
<rect x="876" y="142" width="1" height="25" fill="#00ff7f"/>
<rect x="875" y="160" width="3" height="6" fill="#00ff7f"/>
<rect x="880" y="156" width="1" height="59" fill="#00ff7f"/>
<rect x="879" y="165" width="3" height="24" fill="#00ff7f"/>
<rect x="884" y="177" width="1" height="12" fill="#ff0000"/>
<rect x="883" y="178" width="3" height="9" fill="#ff0000"/>
<rect x="888" y="152" width="1" height="38" fill="#ff0000"/>
<rect x="887" y="157" width="3" height="22" fill="#ff0000"/>
<rect x="892" y="152" width="1" height="19" fill="#00ff7f"/>
<rect x="891" y="157" width="3" height="13" fill="#00ff7f"/>
<rect x="896" y="148" width="1" height="39" fill="#00ff7f"/>
<rect x="895" y="167" width="3" height="6" fill="#00ff7f"/>
<rect x="900" y="162" width="1" height="41" fill="#ff0000"/>
<rect x="899" y="166" width="3" height="13" fill="#ff0000"/>
<rect x="904" y="138" width="1" height="45" fill="#00ff7f"/>
<rect x="903" y="166" width="3" height="9" fill="#00ff7f"/>
<rect x="908" y="170" width="1" height="7" fill="#00ff7f"/>
<rect x="907" y="171" width="3" height="5" fill="#00ff7f"/>
<rect x="912" y="174" width="1" height="20" fill="#00ff7f"/>
<rect x="911" y="175" width="3" height="12" fill="#00ff7f"/>
<rect x="916" y="184" width="1" height="22" fill="#00ff7f"/>
<rect x="915" y="186" width="3" height="16" fill="#00ff7f"/>
<rect x="920" y="180" width="1" height="48" fill="#ff0000"/>
<rect x="919" y="182" width="3" height="20" fill="#ff0000"/>
<rect x="924" y="144" width="1" height="41" fill="#ff0000"/>
<rect x="923" y="160" width="3" height="23" fill="#ff0000"/>
<rect x="928" y="155" width="1" height="30" fill="#00ff7f"/>
<rect x="927" y="160" width="3" height="21" fill="#00ff7f"/>
<rect x="932" y="178" width="1" height="7" fill="#ff0000"/>
<rect x="931" y="180" width="3" height="3" fill="#ff0000"/>
<rect x="936" y="172" width="1" height="15" fill="#00ff7f"/>
<rect x="935" y="178" width="3" height="5" fill="#00ff7f"/>
<rect x="940" y="146" width="1" height="39" fill="#ff0000"/>
<rect x="939" y="151" width="3" height="32" fill="#ff0000"/>
<rect x="944" y="119" width="1" height="38" fill="#ff0000"/>
<rect x="943" y="137" width="3" height="16" fill="#ff0000"/>
<rect x="948" y="125" width="1" height="29" fill="#ff0000"/>
<rect x="947" y="127" width="3" height="11" fill="#ff0000"/>
<rect x="952" y="109" width="1" height="33" fill="#00ff7f"/>
<rect x="951" y="127" width="3" height="5" fill="#00ff7f"/>
<rect x="956" y="130" width="1" height="7" fill="#00ff7f"/>
<rect x="955" y="132" width="3" height="3" fill="#00ff7f"/>
<rect x="960" y="131" width="1" height="52" fill="#00ff7f"/>
<rect x="959" y="133" width="3" height="46" fill="#00ff7f"/>
<rect x="964" y="174" width="1" height="39" fill="#00ff7f"/>
<rect x="963" y="178" width="3" height="29" fill="#00ff7f"/>
<rect x="968" y="185" width="1" height="40" fill="#ff0000"/>
<rect x="967" y="191" width="3" height="16" fill="#ff0000"/>
<rect x="972" y="184" width="1" height="45" fill="#00ff7f"/>
<rect x="971" y="191" width="3" height="37" fill="#00ff7f"/>
<rect x="976" y="221" width="1" height="60" fill="#00ff7f"/>
<rect x="975" y="226" width="3" height="49" fill="#00ff7f"/>
<rect x="980" y="274" width="1" height="3" fill="#00ff7f"/>
<rect x="979" y="274" width="3" height="3" fill="#00ff7f"/>
<rect x="984" y="270" width="1" height="18" fill="#00ff7f"/>
<rect x="983" y="277" width="3" height="3" fill="#00ff7f"/>
<rect x="988" y="253" width="1" height="35" fill="#ff0000"/>
<rect x="987" y="268" width="3" height="12" fill="#ff0000"/>
<rect x="992" y="233" width="1" height="38" fill="#ff0000"/>
<rect x="991" y="239" width="3" height="30" fill="#ff0000"/>
<rect x="996" y="236" width="1" height="24" fill="#00ff7f"/>
<rect x="995" y="238" width="3" height="6" fill="#00ff7f"/>
<rect x="1000" y="190" width="1" height="55" fill="#ff0000"/>
<rect x="999" y="192" width="3" height="53" fill="#ff0000"/>
<rect x="1004" y="193" width="1" height="5" fill="#ff0000"/>
<rect x="1003" y="194" width="3" height="3" fill="#ff0000"/>
<rect x="1008" y="190" width="1" height="2" fill="#ff0000"/>
<rect x="1007" y="190" width="3" height="1" fill="#ff0000"/>
<rect x="1012" y="183" width="1" height="36" fill="#00ff7f"/>
<rect x="1011" y="195" width="3" height="23" fill="#00ff7f"/>
<rect x="1016" y="211" width="1" height="65" fill="#00ff7f"/>
<rect x="1015" y="217" width="3" height="58" fill="#00ff7f"/>
<rect x="1020" y="274" width="1" height="69" fill="#00ff7f"/>
<rect x="1019" y="277" width="3" height="49" fill="#00ff7f"/>
<rect x="1024" y="298" width="1" height="40" fill="#ff0000"/>
<rect x="1023" y="310" width="3" height="15" fill="#ff0000"/>
<rect x="1028" y="307" width="1" height="10" fill="#00ff7f"/>
<rect x="1027" y="310" width="3" height="7" fill="#00ff7f"/>
<rect x="1032" y="306" width="1" height="23" fill="#00ff7f"/>
<rect x="1031" y="314" width="3" height="10" fill="#00ff7f"/>
<rect x="1036" y="310" width="1" height="33" fill="#00ff7f"/>
<rect x="1035" y="322" width="3" height="7" fill="#00ff7f"/>
<rect x="1040" y="322" width="1" height="47" fill="#00ff7f"/>
<rect x="1039" y="328" width="3" height="31" fill="#00ff7f"/>
<rect x="1044" y="350" width="1" height="28" fill="#00ff7f"/>
<rect x="1043" y="358" width="3" height="18" fill="#00ff7f"/>
<rect x="1048" y="371" width="1" height="25" fill="#00ff7f"/>
<rect x="1047" y="374" width="3" height="10" fill="#00ff7f"/>
<rect x="1052" y="375" width="1" height="7" fill="#ff0000"/>
<rect x="1051" y="376" width="3" height="4" fill="#ff0000"/>
<rect x="1056" y="346" width="1" height="36" fill="#ff0000"/>
<rect x="1055" y="352" width="3" height="25" fill="#ff0000"/>
<rect x="1060" y="349" width="1" height="26" fill="#00ff7f"/>
<rect x="1059" y="352" width="3" height="21" fill="#00ff7f"/>
<rect x="1064" y="360" width="1" height="38" fill="#00ff7f"/>
<rect x="1063" y="372" width="3" height="25" fill="#00ff7f"/>
<rect x="1068" y="383" width="1" height="26" fill="#00ff7f"/>
<rect x="1067" y="395" width="3" height="7" fill="#00ff7f"/>
<rect x="1072" y="352" width="1" height="51" fill="#ff0000"/>
<rect x="1071" y="379" width="3" height="23" fill="#ff0000"/>
<rect x="1076" y="383" width="1" height="6" fill="#ff0000"/>
<rect x="1075" y="384" width="3" height="2" fill="#ff0000"/>
<rect x="1080" y="368" width="1" height="34" fill="#ff0000"/>
<rect x="1079" y="369" width="3" height="16" fill="#ff0000"/>
<rect x="1084" y="348" width="1" height="24" fill="#ff0000"/>
<rect x="1083" y="356" width="3" height="15" fill="#ff0000"/>
<rect x="1088" y="348" width="1" height="46" fill="#00ff7f"/>
<rect x="1087" y="355" width="3" height="32" fill="#00ff7f"/>
<rect x="1092" y="385" width="1" height="21" fill="#00ff7f"/>
<rect x="1091" y="386" width="3" height="4" fill="#00ff7f"/>
<rect x="1096" y="388" width="1" height="31" fill="#00ff7f"/>
<rect x="1095" y="389" width="3" height="23" fill="#00ff7f"/>
<rect x="1100" y="407" width="1" height="6" fill="#ff0000"/>
<rect x="1099" y="408" width="3" height="5" fill="#ff0000"/>
<rect x="1104" y="398" width="1" height="20" fill="#ff0000"/>
<rect x="1103" y="400" width="3" height="10" fill="#ff0000"/>
<rect x="1108" y="376" width="1" height="40" fill="#ff0000"/>
<rect x="1107" y="379" width="3" height="23" fill="#ff0000"/>
<rect x="1112" y="375" width="1" height="34" fill="#00ff7f"/>
<rect x="1111" y="379" width="3" height="17" fill="#00ff7f"/>
<rect x="1116" y="374" width="1" height="46" fill="#00ff7f"/>
<rect x="1115" y="392" width="3" height="17" fill="#00ff7f"/>
<rect x="1120" y="366" width="1" height="49" fill="#ff0000"/>
<rect x="1119" y="393" width="3" height="16" fill="#ff0000"/>
<rect x="1124" y="395" width="1" height="4" fill="#ff0000"/>
<rect x="1123" y="396" width="3" height="2" fill="#ff0000"/>
<rect x="1128" y="389" width="1" height="10" fill="#ff0000"/>
<rect x="1127" y="392" width="3" height="7" fill="#ff0000"/>
<polyline points="3.5,395.1 4.5,395.1 8.5,397.3 12.5,400.9 16.5,402.1 20.5,402.9 24.5,402.9 28.5,400.7 32.5,397.7 36.5,397.7 40.5,397.2 44.5,397.1 48.5,394.6 52.5,391.6 56.5,391.3 60.5,393.4 64.5,393.0 68.5,393.6 72.5,394.0 76.5,393.7 80.5,394.5 84.5,398.4 88.5,399.8 92.5,399.9 96.5,399.6 100.5,400.6 104.5,403.1 108.5,403.8 112.5,405.4 116.5,412.2 120.5,421.4 124.5,430.6 128.5,440.1 132.5,447.9 136.5,454.3 140.5,457.9 144.5,459.4 148.5,460.8 152.5,463.4 156.5,463.1 160.5,464.0 164.5,462.0 168.5,459.2 172.5,456.9 176.5,456.5 180.5,453.5 184.5,450.1 188.5,445.8 192.5,444.0 196.5,442.3 200.5,438.0 204.5,432.3 208.5,425.3 212.5,418.0 216.5,412.2 220.5,406.6 224.5,401.9 228.5,396.3 232.5,392.6 236.5,387.8 240.5,386.7 244.5,384.5 248.5,382.7 252.5,380.2 256.5,376.1 260.5,368.7 264.5,364.2 268.5,359.8 272.5,356.9 276.5,353.1 280.5,351.1 284.5,348.9 288.5,346.2 292.5,343.5 296.5,337.7 300.5,333.1 304.5,331.3 308.5,328.2 312.5,326.3 316.5,322.0 320.5,317.0 324.5,312.2 328.5,307.8 332.5,303.0 336.5,298.9 340.5,297.5 344.5,296.2 348.5,291.6 352.5,287.6 356.5,286.0 360.5,283.8 364.5,277.7 368.5,271.9 372.5,266.3 376.5,261.5 380.5,259.6 384.5,256.5 388.5,250.6 392.5,244.5 396.5,237.8 400.5,231.3 404.5,223.3 408.5,214.7 412.5,206.2 416.5,198.4 420.5,190.2 424.5,178.8 428.5,168.6 432.5,161.5 436.5,155.4 440.5,146.1 444.5,138.0 448.5,135.8 452.5,135.4 456.5,135.0 460.5,136.6 464.5,140.1 468.5,144.7 472.5,149.4 476.5,154.5 480.5,160.0 484.5,165.9 488.5,174.9 492.5,183.9 496.5,192.2 500.5,200.8 504.5,208.7 508.5,217.4 512.5,225.0 516.5,232.7 520.5,240.0 524.5,250.8 528.5,261.8 532.5,267.6 536.5,270.8 540.5,276.9 544.5,281.5 548.5,285.7 552.5,288.7 556.5,292.0 560.5,295.8 564.5,297.4 568.5,296.5 572.5,296.1 576.5,295.7 580.5,295.1 584.5,296.1 588.5,296.5 592.5,296.5 596.5,299.4 600.5,302.0 604.5,305.2 608.5,305.6 612.5,307.0 616.5,307.9 620.5,311.6 624.5,311.9 628.5,310.3 632.5,308.3 636.5,307.1 640.5,305.8 644.5,301.1 648.5,299.2 652.5,299.2 656.5,296.9 660.5,292.4 664.5,288.6 668.5,283.6 672.5,279.4 676.5,277.0 680.5,274.1 684.5,272.5 688.5,269.9 692.5,266.3 696.5,261.7 700.5,258.8 704.5,253.8 708.5,249.5 712.5,244.5 716.5,237.7 720.5,230.3 724.5,224.2 728.5,222.0 732.5,218.5 736.5,215.3 740.5,215.4 744.5,218.0 748.5,221.6 752.5,223.6 756.5,225.5 760.5,226.0 764.5,225.2 768.5,223.3 772.5,223.6 776.5,224.0 780.5,224.6 784.5,223.5 788.5,223.2 792.5,222.0 796.5,222.0 800.5,223.5 804.5,225.1 808.5,225.7 812.5,225.7 816.5,227.6 820.5,227.6 824.5,223.9 828.5,220.4 832.5,216.4 836.5,213.2 840.5,210.3 844.5,209.7 848.5,208.4 852.5,205.7 856.5,202.2 860.5,198.4 864.5,194.9 868.5,192.4 872.5,188.6 876.5,185.0 880.5,183.5 884.5,181.4 888.5,178.2 892.5,175.9 896.5,173.9 900.5,170.7 904.5,170.2 908.5,171.4 912.5,172.8 916.5,174.3 920.5,175.0 924.5,174.4 928.5,173.2 932.5,173.1 936.5,174.1 940.5,172.8 944.5,171.7 948.5,169.4 952.5,168.0 956.5,166.8 960.5,167.5 964.5,168.4 968.5,169.0 972.5,172.3 976.5,177.3 980.5,182.2 984.5,187.6 988.5,192.1 992.5,195.1 996.5,197.8 1000.5,197.4 1004.5,198.0 1008.5,199.4 1012.5,201.2 1016.5,205.7 1020.5,212.6 1024.5,220.1 1028.5,228.6 1032.5,238.0 1036.5,247.3 1040.5,258.0 1044.5,267.4 1048.5,275.8 1052.5,284.6 1056.5,290.5 1060.5,295.2 1064.5,300.9 1068.5,306.8 1072.5,312.0 1076.5,318.9 1080.5,324.9 1084.5,332.8 1088.5,341.9 1092.5,351.4 1096.5,360.6 1100.5,367.0 1104.5,370.5 1108.5,373.8 1112.5,377.6 1116.5,381.7 1120.5,384.8 1124.5,386.6 1128.5,387.4" fill="none" stroke="#ffff00" stroke-width="1" />
<polyline points="3.5,390.5 4.5,390.5 8.5,400.5 12.5,409.9 16.5,417.2 20.5,418.4 24.5,417.9 28.5,416.6 32.5,412.8 36.5,405.4 40.5,401.4 44.5,396.7 48.5,392.1 52.5,385.6 56.5,385.1 60.5,383.3 64.5,380.1 68.5,374.8 72.5,372.6 76.5,372.0 80.5,375.7 84.5,382.9 88.5,393.6 92.5,403.8 96.5,413.6 100.5,422.5 104.5,431.1 108.5,436.1 112.5,437.8 116.5,441.1 120.5,448.0 124.5,456.9 128.5,465.9 132.5,473.2 136.5,475.3 140.5,474.4 144.5,472.8 148.5,471.4 152.5,470.5 156.5,466.5 160.5,463.5 164.5,463.1 168.5,463.6 172.5,460.6 176.5,456.6 180.5,448.0 184.5,437.5 188.5,428.1 192.5,420.7 196.5,414.3 200.5,408.9 204.5,405.2 208.5,399.8 212.5,398.2 216.5,395.5 220.5,392.2 224.5,388.5 228.5,381.9 232.5,375.4 236.5,372.0 240.5,371.3 244.5,371.5 248.5,371.0 252.5,370.3 256.5,367.7 260.5,361.2 264.5,356.3 268.5,350.2 272.5,345.1 276.5,340.3 280.5,338.0 284.5,337.8 288.5,335.8 292.5,333.3 296.5,324.8 300.5,318.4 304.5,315.2 308.5,310.6 312.5,307.2 316.5,305.4 320.5,301.2 324.5,299.9 328.5,297.8 332.5,295.9 336.5,292.0 340.5,290.6 344.5,286.1 348.5,278.5 352.5,274.9 356.5,274.5 360.5,269.0 364.5,262.3 368.5,256.2 372.5,252.2 376.5,250.0 380.5,246.0 384.5,241.5 388.5,236.5 392.5,229.0 396.5,217.8 400.5,208.0 404.5,198.7 408.5,190.5 412.5,178.2 416.5,167.8 420.5,160.8 424.5,151.0 428.5,139.5 432.5,128.6 436.5,118.5 440.5,108.9 444.5,100.1 448.5,99.3 452.5,102.6 456.5,107.9 460.5,119.8 464.5,134.1 468.5,149.2 472.5,163.2 476.5,175.4 480.5,189.5 484.5,204.0 488.5,218.8 492.5,233.3 496.5,247.2 500.5,262.1 504.5,270.2 508.5,274.1 512.5,274.5 516.5,272.8 520.5,268.5 524.5,267.9 528.5,268.6 532.5,268.9 536.5,268.9 540.5,274.4 544.5,279.8 548.5,286.8 552.5,294.1 556.5,300.0 560.5,306.0 564.5,309.4 568.5,311.3 572.5,313.9 576.5,316.9 580.5,313.7 584.5,313.5 588.5,313.5 592.5,312.6 596.5,308.2 600.5,303.5 604.5,297.7 608.5,293.2 612.5,291.1 616.5,287.0 620.5,290.2 624.5,297.4 628.5,301.0 632.5,305.6 636.5,312.1 640.5,314.6 644.5,313.0 648.5,313.5 652.5,311.0 656.5,306.3 660.5,297.7 664.5,288.2 668.5,278.3 672.5,270.8 676.5,260.6 680.5,251.5 684.5,246.8 688.5,240.2 692.5,232.1 696.5,225.0 700.5,223.6 704.5,222.0 708.5,223.0 712.5,222.5 716.5,223.6 720.5,224.6 724.5,225.5 728.5,226.8 732.5,225.8 736.5,222.9 740.5,220.7 744.5,219.9 748.5,221.3 752.5,221.2 756.5,220.8 760.5,219.0 764.5,214.9 768.5,214.9 772.5,219.0 776.5,222.7 780.5,225.7 784.5,225.8 788.5,229.0 792.5,233.0 796.5,232.3 800.5,231.7 804.5,229.7 808.5,228.5 812.5,227.2 816.5,228.1 820.5,226.5 824.5,221.6 828.5,215.0 832.5,209.8 836.5,204.0 840.5,201.0 844.5,198.7 848.5,194.5 852.5,190.4 856.5,187.1 860.5,182.6 864.5,179.5 868.5,175.8 872.5,170.5 876.5,169.0 880.5,171.8 884.5,173.2 888.5,172.5 892.5,172.6 896.5,172.6 900.5,169.7 904.5,169.3 908.5,170.2 912.5,170.9 916.5,173.7 920.5,174.2 924.5,174.2 928.5,175.6 932.5,176.7 936.5,176.2 940.5,174.3 944.5,172.9 948.5,169.8 952.5,166.9 956.5,164.6 960.5,165.0 964.5,167.2 968.5,167.5 972.5,169.4 976.5,176.0 980.5,184.3 984.5,191.3 988.5,197.7 992.5,201.8 996.5,208.4 1000.5,212.3 1004.5,217.1 1008.5,221.3 1012.5,227.3 1016.5,234.1 1020.5,242.5 1024.5,251.0 1028.5,257.4 1032.5,260.9 1036.5,264.6 1040.5,270.3 1044.5,277.9 1048.5,288.2 1052.5,297.7 1056.5,309.2 1060.5,321.8 1064.5,336.5 1068.5,349.6 1072.5,357.1 1076.5,361.4 1080.5,365.6 1084.5,368.5 1088.5,373.0 1092.5,377.3 1096.5,381.1 1100.5,383.5 1104.5,384.7 1108.5,384.9 1112.5,388.0 1116.5,390.6 1120.5,390.4 1124.5,390.0 1128.5,390.9" fill="none" stroke="#ff0000" stroke-width="1" />
<polyline points="3.5,413.5 4.5,413.5 8.5,418.8 12.5,431.1 16.5,436.7 20.5,437.2 24.5,432.1 28.5,429.5 32.5,412.2 36.5,392.1 40.5,371.7 44.5,356.8 48.5,347.0 52.5,339.1 56.5,340.7 60.5,354.5 64.5,368.1 68.5,377.9 72.5,388.4 76.5,397.1 80.5,412.3 84.5,425.1 88.5,432.7 92.5,439.6 96.5,449.2 100.5,456.5 104.5,465.1 108.5,459.9 112.5,450.5 116.5,449.5 120.5,456.4 124.5,464.6 128.5,475.3 132.5,481.3 136.5,490.7 140.5,498.3 144.5,496.1 148.5,486.4 152.5,476.4 156.5,457.7 160.5,445.7 164.5,435.4 168.5,428.8 172.5,425.1 176.5,426.8 180.5,419.6 184.5,417.4 188.5,410.5 192.5,405.9 196.5,399.9 200.5,392.7 204.5,383.7 208.5,380.0 212.5,379.0 216.5,380.5 220.5,378.5 224.5,377.2 228.5,371.0 232.5,367.2 236.5,364.0 240.5,363.6 244.5,362.4 248.5,363.5 252.5,363.4 256.5,364.4 260.5,355.2 264.5,348.7 268.5,336.8 272.5,327.7 276.5,317.2 280.5,312.6 284.5,311.2 288.5,316.4 292.5,317.8 296.5,312.9 300.5,309.0 304.5,313.3 308.5,308.5 312.5,303.3 316.5,294.4 320.5,284.5 324.5,286.9 328.5,286.6 332.5,278.6 336.5,275.6 340.5,278.0 344.5,277.8 348.5,272.5 352.5,263.0 356.5,262.3 360.5,259.4 364.5,249.0 368.5,234.5 372.5,226.7 376.5,227.4 380.5,229.0 384.5,220.6 388.5,213.7 392.5,208.9 396.5,201.0 400.5,189.3 404.5,170.0 408.5,152.0 412.5,135.8 416.5,122.0 420.5,112.7 424.5,101.0 428.5,89.7 432.5,87.1 436.5,85.1 440.5,82.0 444.5,78.3 448.5,85.8 452.5,104.1 456.5,126.0 460.5,152.6 464.5,183.1 468.5,216.4 472.5,248.1 476.5,265.0 480.5,274.8 484.5,282.0 488.5,285.1 492.5,283.5 496.5,278.1 500.5,276.1 504.5,275.4 508.5,273.3 512.5,267.0 516.5,260.5 520.5,253.5 524.5,257.8 528.5,261.2 532.5,262.4 536.5,264.4 540.5,281.8 544.5,299.0 548.5,320.2 552.5,330.3 556.5,338.9 560.5,349.7 564.5,354.4 568.5,340.8 572.5,328.8 576.5,313.5 580.5,297.1 584.5,288.2 588.5,277.4 592.5,270.7 596.5,275.5 600.5,278.3 604.5,281.8 608.5,289.4 612.5,294.0 616.5,296.7 620.5,309.7 624.5,319.3 628.5,323.8 632.5,329.4 636.5,334.7 640.5,335.2 644.5,329.3 648.5,317.4 652.5,302.7 656.5,288.7 660.5,266.0 664.5,241.7 668.5,221.5 672.5,212.3 676.5,203.8 680.5,200.2 684.5,204.9 688.5,214.3 692.5,222.4 696.5,228.5 700.5,234.9 704.5,240.1 708.5,245.7 712.5,240.0 716.5,232.9 720.5,226.8 724.5,222.4 728.5,218.8 732.5,211.6 736.5,200.0 740.5,201.3 744.5,206.9 748.5,215.7 752.5,219.9 756.5,222.8 760.5,226.4 764.5,229.8 768.5,228.5 772.5,231.1 776.5,229.6 780.5,231.5 784.5,228.8 788.5,231.6 792.5,236.1 796.5,236.2 800.5,232.3 804.5,229.8 808.5,225.5 812.5,225.5 816.5,224.7 820.5,216.9 824.5,207.0 828.5,197.6 832.5,189.7 836.5,182.5 840.5,176.5 844.5,172.8 848.5,172.0 852.5,173.9 856.5,176.6 860.5,175.6 864.5,176.6 868.5,175.0 872.5,168.2 876.5,166.1 880.5,169.7 884.5,169.9 888.5,169.3 892.5,168.7 896.5,170.2 900.5,171.2 904.5,172.5 908.5,170.7 912.5,171.8 916.5,178.1 920.5,179.8 924.5,178.2 928.5,180.1 932.5,180.9 936.5,181.8 940.5,176.7 944.5,167.6 948.5,159.9 952.5,155.7 956.5,149.2 960.5,149.0 964.5,152.6 968.5,158.4 972.5,171.2 976.5,192.2 980.5,212.8 984.5,233.5 988.5,246.3 992.5,251.0 996.5,258.4 1000.5,253.3 1004.5,242.0 1008.5,229.8 1012.5,221.1 1016.5,221.8 1020.5,234.1 1024.5,243.7 1028.5,261.4 1032.5,279.7 1036.5,299.4 1040.5,319.6 1044.5,334.0 1048.5,342.3 1052.5,351.7 1056.5,356.9 1060.5,363.9 1064.5,373.6 1068.5,379.7 1072.5,380.3 1076.5,380.4 1080.5,379.4 1084.5,380.0 1088.5,382.0 1092.5,381.1 1096.5,382.5 1100.5,386.6 1104.5,388.9 1108.5,390.4 1112.5,396.0 1116.5,399.2 1120.5,399.7 1124.5,397.6 1128.5,395.2" fill="none" stroke="#0000cd" stroke-width="1" />
<rect x="4" y="189" width="1418" height="3" fill="#ff0000"/>
<rect x="4" y="274" width="1418" height="3" fill="#ff0000"/>
<rect x="4" y="324" width="1418" height="3" fill="#00ff00"/>
<rect x="4" y="426" width="1418" height="3" fill="#0000ff"/>
<rect x="4" y="621" width="1" height="12" fill="#c0c0c0"/>
<rect x="8" y="621" width="1" height="16" fill="#c0c0c0"/>
<rect x="12" y="621" width="1" height="20" fill="#c0c0c0"/>
<rect x="16" y="621" width="1" height="19" fill="#c0c0c0"/>
<rect x="20" y="621" width="1" height="16" fill="#c0c0c0"/>
<rect x="24" y="621" width="1" height="12" fill="#c0c0c0"/>
<rect x="28" y="621" width="1" height="8" fill="#c0c0c0"/>
<rect x="32" y="621" width="1" height="1" fill="#c0c0c0"/>
<rect x="36" y="616" width="1" height="6" fill="#c0c0c0"/>
<rect x="40" y="613" width="1" height="9" fill="#c0c0c0"/>
<rect x="44" y="610" width="1" height="12" fill="#c0c0c0"/>
<rect x="48" y="608" width="1" height="14" fill="#c0c0c0"/>
<rect x="52" y="606" width="1" height="16" fill="#c0c0c0"/>
<rect x="56" y="609" width="1" height="13" fill="#c0c0c0"/>
<rect x="60" y="615" width="1" height="7" fill="#c0c0c0"/>
<rect x="64" y="619" width="1" height="3" fill="#c0c0c0"/>
<rect x="68" y="621" width="1" height="1" fill="#c0c0c0"/>
<rect x="72" y="621" width="1" height="2" fill="#c0c0c0"/>
<rect x="76" y="621" width="1" height="2" fill="#c0c0c0"/>
<rect x="80" y="621" width="1" height="6" fill="#c0c0c0"/>
<rect x="84" y="621" width="1" height="12" fill="#c0c0c0"/>
<rect x="88" y="621" width="1" height="16" fill="#c0c0c0"/>
<rect x="92" y="621" width="1" height="19" fill="#c0c0c0"/>
<rect x="96" y="621" width="1" height="21" fill="#c0c0c0"/>
<rect x="100" y="621" width="1" height="21" fill="#c0c0c0"/>
<rect x="104" y="621" width="1" height="20" fill="#c0c0c0"/>
<rect x="108" y="621" width="1" height="17" fill="#c0c0c0"/>
<rect x="112" y="621" width="1" height="13" fill="#c0c0c0"/>
<rect x="116" y="621" width="1" height="16" fill="#c0c0c0"/>
<rect x="120" y="621" width="1" height="21" fill="#c0c0c0"/>
<rect x="124" y="621" width="1" height="25" fill="#c0c0c0"/>
<rect x="128" y="621" width="1" height="28" fill="#c0c0c0"/>
<rect x="132" y="621" width="1" height="28" fill="#c0c0c0"/>
<rect x="136" y="621" width="1" height="26" fill="#c0c0c0"/>
<rect x="140" y="621" width="1" height="23" fill="#c0c0c0"/>
<rect x="144" y="621" width="1" height="20" fill="#c0c0c0"/>
<rect x="148" y="621" width="1" height="17" fill="#c0c0c0"/>
<rect x="152" y="621" width="1" height="16" fill="#c0c0c0"/>
<rect x="156" y="621" width="1" height="9" fill="#c0c0c0"/>
<rect x="160" y="621" width="1" height="5" fill="#c0c0c0"/>
<rect x="164" y="621" width="1" height="1" fill="#c0c0c0"/>
<rect x="168" y="619" width="1" height="3" fill="#c0c0c0"/>
<rect x="172" y="619" width="1" height="3" fill="#c0c0c0"/>
<rect x="176" y="621" width="1" height="1" fill="#c0c0c0"/>
<rect x="180" y="619" width="1" height="3" fill="#c0c0c0"/>
<rect x="184" y="615" width="1" height="7" fill="#c0c0c0"/>
<rect x="188" y="611" width="1" height="11" fill="#c0c0c0"/>
<rect x="192" y="608" width="1" height="14" fill="#c0c0c0"/>
<rect x="196" y="606" width="1" height="16" fill="#c0c0c0"/>
<rect x="200" y="605" width="1" height="17" fill="#c0c0c0"/>
<rect x="204" y="606" width="1" height="16" fill="#c0c0c0"/>
<rect x="208" y="606" width="1" height="16" fill="#c0c0c0"/>
<rect x="212" y="606" width="1" height="16" fill="#c0c0c0"/>
<rect x="216" y="605" width="1" height="17" fill="#c0c0c0"/>
<rect x="220" y="604" width="1" height="18" fill="#c0c0c0"/>
<rect x="224" y="603" width="1" height="19" fill="#c0c0c0"/>
<rect x="228" y="601" width="1" height="21" fill="#c0c0c0"/>
<rect x="232" y="603" width="1" height="19" fill="#c0c0c0"/>
<rect x="236" y="603" width="1" height="19" fill="#c0c0c0"/>
<rect x="240" y="604" width="1" height="18" fill="#c0c0c0"/>
<rect x="244" y="605" width="1" height="17" fill="#c0c0c0"/>
<rect x="248" y="605" width="1" height="17" fill="#c0c0c0"/>
<rect x="252" y="606" width="1" height="16" fill="#c0c0c0"/>
<rect x="256" y="605" width="1" height="17" fill="#c0c0c0"/>
<rect x="260" y="602" width="1" height="20" fill="#c0c0c0"/>
<rect x="264" y="601" width="1" height="21" fill="#c0c0c0"/>
<rect x="268" y="598" width="1" height="24" fill="#c0c0c0"/>
<rect x="272" y="596" width="1" height="26" fill="#c0c0c0"/>
<rect x="276" y="595" width="1" height="27" fill="#c0c0c0"/>
<rect x="280" y="597" width="1" height="25" fill="#c0c0c0"/>
<rect x="284" y="599" width="1" height="23" fill="#c0c0c0"/>
<rect x="288" y="602" width="1" height="20" fill="#c0c0c0"/>
<rect x="292" y="603" width="1" height="19" fill="#c0c0c0"/>
<rect x="296" y="599" width="1" height="23" fill="#c0c0c0"/>
<rect x="300" y="597" width="1" height="25" fill="#c0c0c0"/>
<rect x="304" y="599" width="1" height="23" fill="#c0c0c0"/>
<rect x="308" y="599" width="1" height="23" fill="#c0c0c0"/>
<rect x="312" y="600" width="1" height="22" fill="#c0c0c0"/>
<rect x="316" y="600" width="1" height="22" fill="#c0c0c0"/>
<rect x="320" y="598" width="1" height="24" fill="#c0c0c0"/>
<rect x="324" y="598" width="1" height="24" fill="#c0c0c0"/>
<rect x="328" y="598" width="1" height="24" fill="#c0c0c0"/>
<rect x="332" y="597" width="1" height="25" fill="#c0c0c0"/>
<rect x="336" y="598" width="1" height="24" fill="#c0c0c0"/>
<rect x="340" y="602" width="1" height="20" fill="#c0c0c0"/>
<rect x="344" y="603" width="1" height="19" fill="#c0c0c0"/>
<rect x="348" y="600" width="1" height="22" fill="#c0c0c0"/>
<rect x="352" y="596" width="1" height="26" fill="#c0c0c0"/>
<rect x="356" y="598" width="1" height="24" fill="#c0c0c0"/>
<rect x="360" y="597" width="1" height="25" fill="#c0c0c0"/>
<rect x="364" y="595" width="1" height="27" fill="#c0c0c0"/>
<rect x="368" y="594" width="1" height="28" fill="#c0c0c0"/>
<rect x="372" y="594" width="1" height="28" fill="#c0c0c0"/>
<rect x="376" y="595" width="1" height="27" fill="#c0c0c0"/>
<rect x="380" y="595" width="1" height="27" fill="#c0c0c0"/>
<rect x="384" y="595" width="1" height="27" fill="#c0c0c0"/>
<rect x="388" y="594" width="1" height="28" fill="#c0c0c0"/>
<rect x="392" y="591" width="1" height="31" fill="#c0c0c0"/>
<rect x="396" y="589" width="1" height="33" fill="#c0c0c0"/>
<rect x="400" y="587" width="1" height="35" fill="#c0c0c0"/>
<rect x="404" y="581" width="1" height="41" fill="#c0c0c0"/>
<rect x="408" y="577" width="1" height="45" fill="#c0c0c0"/>
<rect x="412" y="575" width="1" height="47" fill="#c0c0c0"/>
<rect x="416" y="574" width="1" height="48" fill="#c0c0c0"/>
<rect x="420" y="574" width="1" height="48" fill="#c0c0c0"/>
<rect x="424" y="573" width="1" height="49" fill="#c0c0c0"/>
<rect x="428" y="571" width="1" height="51" fill="#c0c0c0"/>
<rect x="432" y="572" width="1" height="50" fill="#c0c0c0"/>
<rect x="436" y="572" width="1" height="50" fill="#c0c0c0"/>
<rect x="440" y="573" width="1" height="49" fill="#c0c0c0"/>
<rect x="444" y="575" width="1" height="47" fill="#c0c0c0"/>
<rect x="448" y="582" width="1" height="40" fill="#c0c0c0"/>
<rect x="452" y="593" width="1" height="29" fill="#c0c0c0"/>
<rect x="456" y="602" width="1" height="20" fill="#c0c0c0"/>
<rect x="460" y="613" width="1" height="9" fill="#c0c0c0"/>
<rect x="464" y="621" width="1" height="3" fill="#c0c0c0"/>
<rect x="468" y="621" width="1" height="13" fill="#c0c0c0"/>
<rect x="472" y="621" width="1" height="19" fill="#c0c0c0"/>
<rect x="476" y="621" width="1" height="22" fill="#c0c0c0"/>
<rect x="480" y="621" width="1" height="25" fill="#c0c0c0"/>
<rect x="484" y="621" width="1" height="26" fill="#c0c0c0"/>
<rect x="488" y="621" width="1" height="28" fill="#c0c0c0"/>
<rect x="492" y="621" width="1" height="28" fill="#c0c0c0"/>
<rect x="496" y="621" width="1" height="28" fill="#c0c0c0"/>
<rect x="500" y="621" width="1" height="28" fill="#c0c0c0"/>
<rect x="504" y="621" width="1" height="27" fill="#c0c0c0"/>
<rect x="508" y="621" width="1" height="25" fill="#c0c0c0"/>
<rect x="512" y="621" width="1" height="21" fill="#c0c0c0"/>
<rect x="516" y="621" width="1" height="18" fill="#c0c0c0"/>
<rect x="520" y="621" width="1" height="15" fill="#c0c0c0"/>
<rect x="524" y="621" width="1" height="18" fill="#c0c0c0"/>
<rect x="528" y="621" width="1" height="20" fill="#c0c0c0"/>
<rect x="532" y="621" width="1" height="20" fill="#c0c0c0"/>
<rect x="536" y="621" width="1" height="19" fill="#c0c0c0"/>
<rect x="540" y="621" width="1" height="24" fill="#c0c0c0"/>
<rect x="544" y="621" width="1" height="28" fill="#c0c0c0"/>
<rect x="548" y="621" width="1" height="33" fill="#c0c0c0"/>
<rect x="552" y="621" width="1" height="35" fill="#c0c0c0"/>
<rect x="556" y="621" width="1" height="36" fill="#c0c0c0"/>
<rect x="560" y="621" width="1" height="36" fill="#c0c0c0"/>
<rect x="564" y="621" width="1" height="32" fill="#c0c0c0"/>
<rect x="568" y="621" width="1" height="24" fill="#c0c0c0"/>
<rect x="572" y="621" width="1" height="20" fill="#c0c0c0"/>
<rect x="576" y="621" width="1" height="16" fill="#c0c0c0"/>
<rect x="580" y="621" width="1" height="11" fill="#c0c0c0"/>
<rect x="584" y="621" width="1" height="11" fill="#c0c0c0"/>
<rect x="588" y="621" width="1" height="9" fill="#c0c0c0"/>
<rect x="592" y="621" width="1" height="6" fill="#c0c0c0"/>
<rect x="596" y="621" width="1" height="5" fill="#c0c0c0"/>
<rect x="600" y="621" width="1" height="5" fill="#c0c0c0"/>
<rect x="604" y="621" width="1" height="6" fill="#c0c0c0"/>
<rect x="608" y="621" width="1" height="7" fill="#c0c0c0"/>
<rect x="612" y="621" width="1" height="9" fill="#c0c0c0"/>
<rect x="616" y="621" width="1" height="9" fill="#c0c0c0"/>
<rect x="620" y="621" width="1" height="12" fill="#c0c0c0"/>
<rect x="624" y="621" width="1" height="15" fill="#c0c0c0"/>
<rect x="628" y="621" width="1" height="14" fill="#c0c0c0"/>
<rect x="632" y="621" width="1" height="15" fill="#c0c0c0"/>
<rect x="636" y="621" width="1" height="16" fill="#c0c0c0"/>
<rect x="640" y="621" width="1" height="16" fill="#c0c0c0"/>
<rect x="644" y="621" width="1" height="10" fill="#c0c0c0"/>
<rect x="648" y="621" width="1" height="6" fill="#c0c0c0"/>
<rect x="652" y="621" width="1" height="1" fill="#c0c0c0"/>
<rect x="656" y="616" width="1" height="6" fill="#c0c0c0"/>
<rect x="660" y="608" width="1" height="14" fill="#c0c0c0"/>
<rect x="664" y="602" width="1" height="20" fill="#c0c0c0"/>
<rect x="668" y="598" width="1" height="24" fill="#c0c0c0"/>
<rect x="672" y="596" width="1" height="26" fill="#c0c0c0"/>
<rect x="676" y="596" width="1" height="26" fill="#c0c0c0"/>
<rect x="680" y="597" width="1" height="25" fill="#c0c0c0"/>
<rect x="684" y="601" width="1" height="21" fill="#c0c0c0"/>
<rect x="688" y="603" width="1" height="19" fill="#c0c0c0"/>
<rect x="692" y="604" width="1" height="18" fill="#c0c0c0"/>
<rect x="696" y="605" width="1" height="17" fill="#c0c0c0"/>
<rect x="700" y="606" width="1" height="16" fill="#c0c0c0"/>
<rect x="704" y="608" width="1" height="14" fill="#c0c0c0"/>
<rect x="708" y="611" width="1" height="11" fill="#c0c0c0"/>
<rect x="712" y="610" width="1" height="12" fill="#c0c0c0"/>
<rect x="716" y="607" width="1" height="15" fill="#c0c0c0"/>
<rect x="720" y="605" width="1" height="17" fill="#c0c0c0"/>
<rect x="724" y="605" width="1" height="17" fill="#c0c0c0"/>
<rect x="728" y="605" width="1" height="17" fill="#c0c0c0"/>
<rect x="732" y="605" width="1" height="17" fill="#c0c0c0"/>
<rect x="736" y="603" width="1" height="19" fill="#c0c0c0"/>
<rect x="740" y="606" width="1" height="16" fill="#c0c0c0"/>
<rect x="744" y="608" width="1" height="14" fill="#c0c0c0"/>
<rect x="748" y="612" width="1" height="10" fill="#c0c0c0"/>
<rect x="752" y="614" width="1" height="8" fill="#c0c0c0"/>
<rect x="756" y="615" width="1" height="7" fill="#c0c0c0"/>
<rect x="760" y="615" width="1" height="7" fill="#c0c0c0"/>
<rect x="764" y="614" width="1" height="8" fill="#c0c0c0"/>
<rect x="768" y="614" width="1" height="8" fill="#c0c0c0"/>
<rect x="772" y="617" width="1" height="5" fill="#c0c0c0"/>
<rect x="776" y="618" width="1" height="4" fill="#c0c0c0"/>
<rect x="780" y="620" width="1" height="2" fill="#c0c0c0"/>
<rect x="784" y="619" width="1" height="3" fill="#c0c0c0"/>
<rect x="788" y="620" width="1" height="2" fill="#c0c0c0"/>
<rect x="792" y="621" width="1" height="1" fill="#c0c0c0"/>
<rect x="796" y="620" width="1" height="2" fill="#c0c0c0"/>
<rect x="800" y="619" width="1" height="3" fill="#c0c0c0"/>
<rect x="804" y="619" width="1" height="3" fill="#c0c0c0"/>
<rect x="808" y="618" width="1" height="4" fill="#c0c0c0"/>
<rect x="812" y="618" width="1" height="4" fill="#c0c0c0"/>
<rect x="816" y="619" width="1" height="3" fill="#c0c0c0"/>
<rect x="820" y="616" width="1" height="6" fill="#c0c0c0"/>
<rect x="824" y="611" width="1" height="11" fill="#c0c0c0"/>
<rect x="828" y="608" width="1" height="14" fill="#c0c0c0"/>
<rect x="832" y="606" width="1" height="16" fill="#c0c0c0"/>
<rect x="836" y="605" width="1" height="17" fill="#c0c0c0"/>
<rect x="840" y="605" width="1" height="17" fill="#c0c0c0"/>
<rect x="844" y="608" width="1" height="14" fill="#c0c0c0"/>
<rect x="848" y="608" width="1" height="14" fill="#c0c0c0"/>
<rect x="852" y="607" width="1" height="15" fill="#c0c0c0"/>
<rect x="856" y="607" width="1" height="15" fill="#c0c0c0"/>
<rect x="860" y="606" width="1" height="16" fill="#c0c0c0"/>
<rect x="864" y="607" width="1" height="15" fill="#c0c0c0"/>
<rect x="868" y="607" width="1" height="15" fill="#c0c0c0"/>
<rect x="872" y="606" width="1" height="16" fill="#c0c0c0"/>
<rect x="876" y="607" width="1" height="15" fill="#c0c0c0"/>
<rect x="880" y="609" width="1" height="13" fill="#c0c0c0"/>
<rect x="884" y="610" width="1" height="12" fill="#c0c0c0"/>
<rect x="888" y="610" width="1" height="12" fill="#c0c0c0"/>
<rect x="892" y="610" width="1" height="12" fill="#c0c0c0"/>
<rect x="896" y="611" width="1" height="11" fill="#c0c0c0"/>
<rect x="900" y="611" width="1" height="11" fill="#c0c0c0"/>
<rect x="904" y="612" width="1" height="10" fill="#c0c0c0"/>
<rect x="908" y="613" width="1" height="9" fill="#c0c0c0"/>
<rect x="912" y="615" width="1" height="7" fill="#c0c0c0"/>
<rect x="916" y="617" width="1" height="5" fill="#c0c0c0"/>
<rect x="920" y="618" width="1" height="4" fill="#c0c0c0"/>
<rect x="924" y="617" width="1" height="5" fill="#c0c0c0"/>
<rect x="928" y="617" width="1" height="5" fill="#c0c0c0"/>
<rect x="932" y="618" width="1" height="4" fill="#c0c0c0"/>
<rect x="936" y="618" width="1" height="4" fill="#c0c0c0"/>
<rect x="940" y="616" width="1" height="6" fill="#c0c0c0"/>
<rect x="944" y="614" width="1" height="8" fill="#c0c0c0"/>
<rect x="948" y="612" width="1" height="10" fill="#c0c0c0"/>
<rect x="952" y="610" width="1" height="12" fill="#c0c0c0"/>
<rect x="956" y="609" width="1" height="13" fill="#c0c0c0"/>
<rect x="960" y="612" width="1" height="10" fill="#c0c0c0"/>
<rect x="964" y="616" width="1" height="6" fill="#c0c0c0"/>
<rect x="968" y="618" width="1" height="4" fill="#c0c0c0"/>
<rect x="972" y="621" width="1" height="3" fill="#c0c0c0"/>
<rect x="976" y="621" width="1" height="10" fill="#c0c0c0"/>
<rect x="980" y="621" width="1" height="16" fill="#c0c0c0"/>
<rect x="984" y="621" width="1" height="20" fill="#c0c0c0"/>
<rect x="988" y="621" width="1" height="22" fill="#c0c0c0"/>
<rect x="992" y="621" width="1" height="22" fill="#c0c0c0"/>
<rect x="996" y="621" width="1" height="22" fill="#c0c0c0"/>
<rect x="1000" y="621" width="1" height="17" fill="#c0c0c0"/>
<rect x="1004" y="621" width="1" height="14" fill="#c0c0c0"/>
<rect x="1008" y="621" width="1" height="11" fill="#c0c0c0"/>
<rect x="1012" y="621" width="1" height="10" fill="#c0c0c0"/>
<rect x="1016" y="621" width="1" height="14" fill="#c0c0c0"/>
<rect x="1020" y="621" width="1" height="20" fill="#c0c0c0"/>
<rect x="1024" y="621" width="1" height="24" fill="#c0c0c0"/>
<rect x="1028" y="621" width="1" height="27" fill="#c0c0c0"/>
<rect x="1032" y="621" width="1" height="30" fill="#c0c0c0"/>
<rect x="1036" y="621" width="1" height="32" fill="#c0c0c0"/>
<rect x="1040" y="621" width="1" height="36" fill="#c0c0c0"/>
<rect x="1044" y="621" width="1" height="40" fill="#c0c0c0"/>
<rect x="1048" y="621" width="1" height="43" fill="#c0c0c0"/>
<rect x="1052" y="621" width="1" height="44" fill="#c0c0c0"/>
<rect x="1056" y="621" width="1" height="43" fill="#c0c0c0"/>
<rect x="1060" y="621" width="1" height="43" fill="#c0c0c0"/>
<rect x="1064" y="621" width="1" height="44" fill="#c0c0c0"/>
<rect x="1068" y="621" width="1" height="45" fill="#c0c0c0"/>
<rect x="1072" y="621" width="1" height="44" fill="#c0c0c0"/>
<rect x="1076" y="621" width="1" height="43" fill="#c0c0c0"/>
<rect x="1080" y="621" width="1" height="40" fill="#c0c0c0"/>
<rect x="1084" y="621" width="1" height="37" fill="#c0c0c0"/>
<rect x="1088" y="621" width="1" height="36" fill="#c0c0c0"/>
<rect x="1092" y="621" width="1" height="35" fill="#c0c0c0"/>
<rect x="1096" y="621" width="1" height="36" fill="#c0c0c0"/>
<rect x="1100" y="621" width="1" height="35" fill="#c0c0c0"/>
<rect x="1104" y="621" width="1" height="34" fill="#c0c0c0"/>
<rect x="1108" y="621" width="1" height="32" fill="#c0c0c0"/>
<rect x="1112" y="621" width="1" height="30" fill="#c0c0c0"/>
<rect x="1116" y="621" width="1" height="30" fill="#c0c0c0"/>
<rect x="1120" y="621" width="1" height="28" fill="#c0c0c0"/>
<rect x="1124" y="621" width="1" height="27" fill="#c0c0c0"/>
<rect x="1128" y="621" width="1" height="25" fill="#c0c0c0"/>
<polyline points="4.5,627.7 8.5,629.0 12.5,630.8 16.5,632.1 20.5,633.0 24.5,633.6 28.5,633.7 32.5,632.9 36.5,631.5 40.5,629.5 44.5,626.6 48.5,623.0 52.5,619.4 56.5,616.5 60.5,614.5 64.5,613.5 68.5,613.4 72.5,614.1 76.5,615.1 80.5,616.9 84.5,619.6 88.5,622.9 92.5,626.2 96.5,629.1 100.5,631.6 104.5,633.8 108.5,635.4 112.5,636.6 116.5,637.6 120.5,638.6 124.5,639.7 128.5,640.8 132.5,641.5 136.5,642.1 140.5,642.3 144.5,642.7 148.5,643.2 152.5,643.2 156.5,641.9 160.5,639.7 164.5,636.7 168.5,633.5 172.5,630.5 176.5,628.1 180.5,625.7 184.5,623.3 188.5,620.5 192.5,618.1 196.5,615.9 200.5,614.1 204.5,612.7 208.5,611.3 212.5,609.6 216.5,608.0 220.5,606.8 224.5,605.9 228.5,605.2 232.5,604.8 236.5,604.6 240.5,604.4 244.5,604.2 248.5,604.2 252.5,604.2 256.5,604.4 260.5,604.3 264.5,604.3 268.5,603.7 272.5,603.0 276.5,601.9 280.5,601.0 284.5,600.3 288.5,599.9 292.5,599.6 296.5,599.2 300.5,598.8 304.5,599.0 308.5,599.3 312.5,599.9 316.5,600.3 320.5,600.2 324.5,599.7 328.5,599.1 332.5,599.0 336.5,599.1 340.5,599.5 344.5,599.9 348.5,599.8 352.5,599.4 356.5,599.3 360.5,599.3 364.5,599.0 368.5,598.6 372.5,598.1 376.5,597.3 380.5,596.4 384.5,595.8 388.5,595.6 392.5,594.9 396.5,593.9 400.5,593.1 404.5,591.7 408.5,589.8 412.5,587.6 416.5,585.3 420.5,583.0 424.5,580.7 428.5,578.4 432.5,576.5 436.5,574.9 440.5,574.1 444.5,573.8 448.5,574.6 452.5,576.7 456.5,579.8 460.5,584.2 464.5,589.9 468.5,596.7 472.5,604.1 476.5,611.8 480.5,619.6 484.5,626.6 488.5,632.8 492.5,637.9 496.5,641.8 500.5,644.6 504.5,646.2 508.5,646.9 512.5,646.7 516.5,646.0 520.5,644.8 524.5,643.7 528.5,642.9 532.5,642.0 536.5,641.1 540.5,640.7 544.5,641.1 548.5,642.4 552.5,644.3 556.5,646.6 560.5,648.6 564.5,649.9 568.5,650.3 572.5,650.4 576.5,649.4 580.5,647.5 584.5,645.1 588.5,642.2 592.5,638.8 596.5,635.4 600.5,632.4 604.5,630.3 608.5,628.9 612.5,628.2 616.5,627.9 620.5,628.1 624.5,628.7 628.5,629.7 632.5,630.7 636.5,631.9 640.5,633.0 644.5,633.3 648.5,632.9 652.5,632.1 656.5,630.3 660.5,627.3 664.5,623.6 668.5,619.6 672.5,615.1 676.5,610.7 680.5,607.1 684.5,604.3 688.5,602.3 692.5,601.0 696.5,600.7 700.5,601.2 704.5,602.3 708.5,603.9 712.5,605.5 716.5,606.6 720.5,607.1 724.5,607.4 728.5,607.5 732.5,607.5 736.5,607.2 740.5,607.0 744.5,606.7 748.5,606.9 752.5,607.6 756.5,608.6 760.5,609.7 764.5,610.7 768.5,611.7 772.5,613.2 776.5,614.6 780.5,615.9 784.5,616.6 788.5,617.3 792.5,618.0 796.5,618.5 800.5,619.1 804.5,619.6 808.5,619.8 812.5,619.7 816.5,619.6 820.5,619.2 824.5,618.2 828.5,616.8 832.5,615.3 836.5,613.8 840.5,612.2 844.5,611.0 848.5,609.9 852.5,608.6 856.5,607.7 860.5,607.2 864.5,607.1 868.5,607.1 872.5,607.2 876.5,607.4 880.5,607.6 884.5,607.9 888.5,608.2 892.5,608.5 896.5,609.0 900.5,609.5 904.5,610.1 908.5,610.9 912.5,611.8 916.5,612.7 920.5,613.5 924.5,614.3 928.5,615.1 932.5,615.8 936.5,616.6 940.5,617.0 944.5,617.2 948.5,616.8 952.5,616.0 956.5,615.0 960.5,614.5 964.5,614.4 968.5,614.5 972.5,615.0 976.5,616.5 980.5,618.9 984.5,622.1 988.5,625.7 992.5,629.3 996.5,632.6 1000.5,635.0 1004.5,636.7 1008.5,637.5 1012.5,637.5 1016.5,637.4 1020.5,637.4 1024.5,637.6 1028.5,638.3 1032.5,639.2 1036.5,640.9 1040.5,643.3 1044.5,646.5 1048.5,650.1 1052.5,653.5 1056.5,656.0 1060.5,658.0 1064.5,659.9 1068.5,661.6 1072.5,662.8 1076.5,663.6 1080.5,663.6 1084.5,663.0 1088.5,662.1 1092.5,661.2 1096.5,660.4 1100.5,659.4 1104.5,658.2 1108.5,656.8 1112.5,655.5 1116.5,654.3 1120.5,653.4 1124.5,652.3 1128.5,651.2" fill="none" stroke="#ff0000" stroke-width="1" stroke-dasharray="3,3"/>
<line x1="5" y1="711.5" x2="1419" y2="711.5" stroke="#c0c0c0" stroke-width="1" stroke-dasharray="3,3"/>
<line x1="5" y1="762.5" x2="1419" y2="762.5" stroke="#c0c0c0" stroke-width="1" stroke-dasharray="3,3"/>
<polyline points="4.5,748.8 8.5,751.9 12.5,753.9 16.5,742.7 20.5,736.1 24.5,734.6 28.5,731.3 32.5,724.0 36.5,724.0 40.5,726.8 44.5,724.9 48.5,725.3 52.5,726.9 56.5,738.8 60.5,746.8 64.5,746.3 68.5,742.7 72.5,741.1 76.5,738.3 80.5,748.9 84.5,754.3 88.5,755.1 92.5,752.8 96.5,753.7 100.5,747.0 104.5,746.3 108.5,734.5 112.5,734.9 116.5,748.8 120.5,756.4 124.5,758.2 128.5,756.8 132.5,747.8 136.5,742.6 140.5,740.0 144.5,739.1 148.5,738.0 152.5,740.5 156.5,726.3 160.5,729.4 164.5,727.6 168.5,731.3 172.5,735.4 176.5,742.9 180.5,731.7 184.5,726.4 188.5,723.0 192.5,724.7 196.5,725.7 200.5,728.1 204.5,733.3 208.5,730.1 212.5,727.8 216.5,727.1 220.5,723.3 224.5,725.9 228.5,720.6 232.5,731.6 236.5,729.3 240.5,731.8 244.5,729.8 248.5,729.2 252.5,729.2 256.5,724.6 260.5,716.7 264.5,720.1 268.5,714.3 272.5,718.9 276.5,716.3 280.5,730.3 284.5,731.8 288.5,734.9 292.5,730.5 296.5,715.9 300.5,721.7 304.5,732.9 308.5,728.7 312.5,729.3 316.5,726.3 320.5,722.0 324.5,725.2 328.5,725.7 332.5,723.5 336.5,727.5 340.5,738.4 344.5,730.9 348.5,720.3 352.5,717.7 356.5,732.4 360.5,728.1 364.5,722.4 368.5,724.8 372.5,727.9 376.5,727.9 380.5,725.8 384.5,724.6 388.5,721.8 392.5,717.9 396.5,716.1 400.5,714.2 404.5,707.2 408.5,706.8 412.5,708.9 416.5,709.3 420.5,712.2 424.5,707.9 428.5,706.5 432.5,709.6 436.5,710.2 440.5,710.0 444.5,709.3 448.5,738.8 452.5,748.7 456.5,751.4 460.5,757.8 464.5,761.8 468.5,764.1 472.5,759.6 476.5,755.0 480.5,754.1 484.5,753.2 488.5,755.3 492.5,754.4 496.5,751.1 500.5,753.1 504.5,750.5 508.5,746.2 512.5,735.7 516.5,738.6 520.5,736.7 524.5,753.4 528.5,753.8 532.5,746.9 536.5,744.9 540.5,758.8 544.5,760.1 548.5,763.1 552.5,760.8 556.5,757.8 560.5,755.8 564.5,741.5 568.5,729.9 572.5,734.5 576.5,734.2 580.5,730.9 584.5,740.7 588.5,736.5 592.5,732.4 596.5,738.1 600.5,739.4 604.5,740.4 608.5,743.1 612.5,748.0 616.5,739.5 620.5,749.5 624.5,750.0 628.5,742.5 632.5,744.9 636.5,746.9 640.5,743.9 644.5,727.8 648.5,729.8 652.5,726.9 656.5,722.6 660.5,715.6 664.5,715.5 668.5,720.2 672.5,720.2 676.5,724.4 680.5,729.2 684.5,737.3 688.5,733.7 692.5,731.6 696.5,732.4 700.5,733.1 704.5,735.0 708.5,740.5 712.5,728.9 716.5,723.8 720.5,723.2 724.5,727.8 728.5,730.0 732.5,725.8 736.5,723.5 740.5,736.4 744.5,737.5 748.5,742.5 752.5,737.8 756.5,737.2 760.5,733.6 764.5,730.4 768.5,733.9 772.5,743.1 776.5,740.1 780.5,742.0 784.5,732.2 788.5,739.2 792.5,739.4 796.5,733.5 800.5,735.1 804.5,735.0 808.5,733.2 812.5,731.9 816.5,738.7 820.5,725.1 824.5,717.5 828.5,720.7 832.5,724.1 836.5,723.9 840.5,725.8 844.5,737.3 848.5,730.1 852.5,725.8 856.5,730.6 860.5,726.7 864.5,730.9 868.5,727.6 872.5,727.1 876.5,729.3 880.5,736.9 884.5,734.1 888.5,728.0 892.5,732.3 896.5,733.1 900.5,731.3 904.5,734.4 908.5,734.8 912.5,739.2 916.5,744.3 920.5,736.7 924.5,729.5 928.5,736.7 932.5,736.7 936.5,737.5 940.5,727.0 944.5,723.0 948.5,720.3 952.5,722.2 956.5,723.5 960.5,741.0 964.5,748.9 968.5,743.5 972.5,752.4 976.5,761.0 980.5,761.3 984.5,761.8 988.5,757.9 992.5,747.5 996.5,748.3 1000.5,733.6 1004.5,734.4 1008.5,733.2 1012.5,740.9 1016.5,752.9 1020.5,760.8 1024.5,756.5 1028.5,757.4 1032.5,758.6 1036.5,759.3 1040.5,764.1 1044.5,766.3 1048.5,767.4 1052.5,764.7 1056.5,756.2 1060.5,759.6 1064.5,763.5 1068.5,764.2 1072.5,756.3 1076.5,757.3 1080.5,751.9 1084.5,747.5 1088.5,754.1 1092.5,754.7 1096.5,759.0 1100.5,757.9 1104.5,754.7 1108.5,747.0 1112.5,751.0 1116.5,754.0 1120.5,748.3 1124.5,748.9 1128.5,747.4" fill="none" stroke="#1e90ff" stroke-width="1" />
<rect x="0" y="23" width="3" height="800" fill="#fff"/>
<rect x="0" y="22" width="1" height="800" fill="#696969"/>
<rect x="1420" y="26" width="44" height="776" fill="#fff"/>
<rect x="1419" y="189" width="3" height="3" fill="#ff0000"/>
<rect x="1419" y="274" width="3" height="3" fill="#ff0000"/>
<rect x="1419" y="324" width="3" height="3" fill="#00ff00"/>
<rect x="1419" y="426" width="3" height="3" fill="#0000ff"/>
<rect x="3" y="25" width="1417" height="1" fill="#000"/>
<rect x="3" y="25" width="1" height="777" fill="#000"/>
<rect x="1419" y="25" width="1" height="777" fill="#000"/>
<rect x="3" y="564" width="1417" height="1" fill="#000"/>
<rect x="3" y="566" width="1417" height="1" fill="#000"/>
<rect x="3" y="669" width="1417" height="1" fill="#000"/>
<rect x="3" y="671" width="1417" height="1" fill="#000"/>
<rect x="3" y="801" width="1417" height="1" fill="#000"/>
<rect x="3" y="565" width="1417" height="1" fill="#fff"/>
<rect x="3" y="670" width="1417" height="1" fill="#fff"/>
<rect x="1420" y="33" width="2" height="1" fill="#000"/>
<rect x="1420" y="66" width="2" height="1" fill="#000"/>
<rect x="1420" y="99" width="2" height="1" fill="#000"/>
<rect x="1420" y="132" width="2" height="1" fill="#000"/>
<rect x="1420" y="165" width="2" height="1" fill="#000"/>
<rect x="1420" y="198" width="2" height="1" fill="#000"/>
<rect x="1420" y="231" width="2" height="1" fill="#000"/>
<rect x="1420" y="264" width="2" height="1" fill="#000"/>
<rect x="1420" y="297" width="2" height="1" fill="#000"/>
<rect x="1420" y="330" width="2" height="1" fill="#000"/>
<rect x="1420" y="363" width="2" height="1" fill="#000"/>
<rect x="1420" y="396" width="2" height="1" fill="#000"/>
<rect x="1420" y="429" width="2" height="1" fill="#000"/>
<rect x="1420" y="462" width="2" height="1" fill="#000"/>
<rect x="1420" y="495" width="2" height="1" fill="#000"/>
<rect x="1420" y="528" width="2" height="1" fill="#000"/>
<rect x="1420" y="561" width="2" height="1" fill="#000"/>
<rect x="1420" y="568" width="1" height="1" fill="#000"/>
<rect x="1420" y="621" width="2" height="1" fill="#000"/>
<rect x="1420" y="668" width="1" height="1" fill="#000"/>
<rect x="1420" y="673" width="1" height="1" fill="#000"/>
<rect x="1420" y="711" width="2" height="1" fill="#000"/>
<rect x="1420" y="762" width="2" height="1" fill="#000"/>
<rect x="1420" y="800" width="1" height="1" fill="#000"/>
<rect x="4" y="802" width="1" height="3" fill="#000"/>
<rect x="68" y="802" width="1" height="3" fill="#000"/>
<rect x="132" y="802" width="1" height="3" fill="#000"/>
<rect x="196" y="802" width="1" height="3" fill="#000"/>
<rect x="260" y="802" width="1" height="3" fill="#000"/>
<rect x="324" y="802" width="1" height="3" fill="#000"/>
<rect x="388" y="802" width="1" height="3" fill="#000"/>
<rect x="452" y="802" width="1" height="3" fill="#000"/>
<rect x="516" y="802" width="1" height="3" fill="#000"/>
<rect x="580" y="802" width="1" height="3" fill="#000"/>
<rect x="644" y="802" width="1" height="3" fill="#000"/>
<rect x="708" y="802" width="1" height="3" fill="#000"/>
<rect x="772" y="802" width="1" height="3" fill="#000"/>
<rect x="836" y="802" width="1" height="3" fill="#000"/>
<rect x="900" y="802" width="1" height="3" fill="#000"/>
<rect x="964" y="802" width="1" height="3" fill="#000"/>
<rect x="1028" y="802" width="1" height="3" fill="#000"/>
<rect x="1092" y="802" width="1" height="3" fill="#000"/>
<polygon points="1130,26 1139,26 1134.5,31" fill="#c0c0c0"/>
<polygon points="7,36 14,36 10.5,32" fill="#000"/>
</svg>
<div class="ax" style="left:1425px;top:27.5px;">1.36980</div>
<div class="ax" style="left:1425px;top:60.5px;">1.36395</div>
<div class="ax" style="left:1425px;top:93.5px;">1.35810</div>
<div class="ax" style="left:1425px;top:126.5px;">1.35225</div>
<div class="ax" style="left:1425px;top:159.5px;">1.34640</div>
<div class="ax" style="left:1425px;top:192.5px;">1.34055</div>
<div class="ax" style="left:1425px;top:225.5px;">1.33470</div>
<div class="ax" style="left:1425px;top:258.5px;">1.32885</div>
<div class="ax" style="left:1425px;top:291.5px;">1.32300</div>
<div class="ax" style="left:1425px;top:324.5px;">1.31715</div>
<div class="ax" style="left:1425px;top:357.5px;">1.31130</div>
<div class="ax" style="left:1425px;top:390.5px;">1.30545</div>
<div class="ax" style="left:1425px;top:423.5px;">1.29975</div>
<div class="ax" style="left:1425px;top:456.5px;">1.29390</div>
<div class="ax" style="left:1425px;top:489.5px;">1.28805</div>
<div class="ax" style="left:1425px;top:522.5px;">1.28220</div>
<div class="ax" style="left:1425px;top:555.5px;">1.27635</div>
<div class="ax" style="left:1423px;top:567.5px;letter-spacing:-0.15px">0.010311</div>
<div class="ax" style="left:1423px;top:615.5px;letter-spacing:-0.15px">0.00</div>
<div class="ax" style="left:1423px;top:657px;letter-spacing:-0.05px">-0.009203</div>
<div class="ax" style="left:1423px;top:672.5px;">100</div>
<div class="ax" style="left:1423px;top:706px;">70</div>
<div class="ax" style="left:1423px;top:757px;">30</div>
<div class="ax" style="left:1423px;top:788.5px;">0</div>
<div class="box" style="top:184px;background:#ff0000;color:#fff"><span>1.34206</span></div>
<div class="box" style="top:269px;background:#ff0000;color:#fff"><span>1.32701</span></div>
<div class="box" style="top:319px;background:#00ff00;color:#fff"><span>1.31801</span></div>
<div class="box" style="top:387px;background:#000;color:#fff"><span>1.30623</span></div>
<div class="box" style="top:421px;background:#0000ff;color:#fff"><span>1.30004</span></div>
<div class="ax" style="left:3px;top:805px;letter-spacing:-0.12px">27 Aug 2018</div>
<div class="ax" style="left:67px;top:805px;letter-spacing:-0.12px">14 Sep 2018</div>
<div class="ax" style="left:131px;top:805px;letter-spacing:-0.12px">3 Oct 2018</div>
<div class="ax" style="left:195px;top:805px;letter-spacing:-0.12px">22 Oct 2018</div>
<div class="ax" style="left:259px;top:805px;letter-spacing:-0.12px">9 Nov 2018</div>
<div class="ax" style="left:323px;top:805px;letter-spacing:-0.12px">28 Nov 2018</div>
<div class="ax" style="left:387px;top:805px;letter-spacing:-0.12px">17 Dec 2018</div>
<div class="ax" style="left:451px;top:805px;letter-spacing:-0.12px">4 Jan 2019</div>
<div class="ax" style="left:515px;top:805px;letter-spacing:-0.12px">23 Jan 2019</div>
<div class="ax" style="left:579px;top:805px;letter-spacing:-0.12px">11 Feb 2019</div>
<div class="ax" style="left:643px;top:805px;letter-spacing:-0.12px">1 Mar 2019</div>
<div class="ax" style="left:707px;top:805px;letter-spacing:-0.12px">20 Mar 2019</div>
<div class="ax" style="left:771px;top:805px;letter-spacing:-0.12px">8 Apr 2019</div>
<div class="ax" style="left:835px;top:805px;letter-spacing:-0.12px">28 Apr 2019</div>
<div class="ax" style="left:899px;top:805px;letter-spacing:-0.12px">16 May 2019</div>
<div class="ax" style="left:963px;top:805px;letter-spacing:-0.12px">4 Jun 2019</div>
<div class="ax" style="left:1027px;top:805px;letter-spacing:-0.12px">23 Jun 2019</div>
<div class="ax" style="left:1091px;top:805px;letter-spacing:-0.12px">11 Jul 2019</div>
<div class="ax" style="left:8.5px;top:569.5px;letter-spacing:-0.1px">MACD(12,26,9) -0.004514 -0.005619</div>
<div class="ax" style="left:8.5px;top:674.5px;letter-spacing:-0.12px">RSI(14) 41.8554</div>
<div class="ax" style="left:19.5px;top:28px;letter-spacing:0.15px">USDCAD-,Daily</div>
<div class="ax" style="left:93.6px;top:28px;word-spacing:1.9px">1.30532 1.30675 1.30532 1.30623</div>
<div id="w">
 <div id="sellt" class="g1"></div><div id="buyt" class="g1"></div>
 <div id="sellb" class="g2"></div><div id="buyb" class="g2"></div>
 <div class="und" style="left:4px;width:44px"></div><div class="und" style="left:172px;width:44px"></div>
 <div class="und2" style="left:4px;width:44px"></div><div class="und2" style="left:172px;width:44px"></div>
 <div class="wl" style="left:12px;top:5px;letter-spacing:-0.9px">SELL</div><div class="wl" style="left:180px;top:5px;letter-spacing:-0.3px">BUY</div>
 <div id="spin"><div class="sb" style="left:0px"></div><div class="sb" style="left:88px"></div>
  <svg width="112" height="22" style="left:-1px;top:-1px"><polygon points="8,9.5 14,9.5 11,12.5" fill="#4060c0"/><polygon points="96,12.5 102,12.5 99,9.5" fill="#4060c0"/></svg>
  <div style="position:absolute;right:24.5px;top:2px;font-size:13px;line-height:15px;color:#000;letter-spacing:-0.3px">1.00</div></div>
 <div class="sm" style="left:20px;top:43px">1.30</div><div class="bg" style="left:48px;top:26px">62</div><div class="sup" style="left:87.5px;top:28px">3</div>
 <div class="sm" style="left:130px;top:43px">1.30</div><div class="bg" style="left:158px;top:26px">64</div><div class="sup" style="left:198px;top:28px">5</div>
</div>
<div id="bot1"></div><div id="bot2"></div><div id="bot3"></div><div id="bot"></div><div id="botl"></div><div style="position:absolute;left:1px;top:825px;width:1px;height:18px;background:#fff"></div>
<div id="act"><span>USDCAD-,Daily</span></div>
<div class="tab" style="left:16.8px;letter-spacing:0.0px">EURUSD-,Daily</div><div class="tsep" style="left:112px"></div>
<div class="tab" style="left:122.9px;letter-spacing:0.19px">AUDUSD-,Daily</div><div class="tsep" style="left:221px"></div>
<div class="tab" style="left:233px;letter-spacing:-0.03px">USDCHF-,Daily</div>
<div class="tab" style="left:449.5px;letter-spacing:0.12px">USDCNH-,Daily</div><div class="tsep" style="left:549px"></div>
<div class="tab" style="left:560.2px;letter-spacing:0.01px">EURCHF-,Weekly</div><div class="tsep" style="left:669px"></div>
<div class="tab" style="left:681.4px;letter-spacing:0.22px">XAUUSD-,M15</div><div class="tsep" style="left:777px"></div>
<div class="tab" style="left:788.2px;letter-spacing:-0.18px">GBPUSD-,H1</div><div class="tsep" style="left:872px"></div>
<div class="tab" style="left:884.4px;letter-spacing:0.2px">UKOil-,H1</div><div class="tsep" style="left:953px"></div>
<svg width="1464" height="845" viewBox="0 0 1464 845" style="pointer-events:none"><polygon points="1435,832.5 1439,829 1439,836" fill="#a0a0a0"/><polygon points="1458,832.5 1454,829 1454,836" fill="#a0a0a0"/></svg>
</body></html>
